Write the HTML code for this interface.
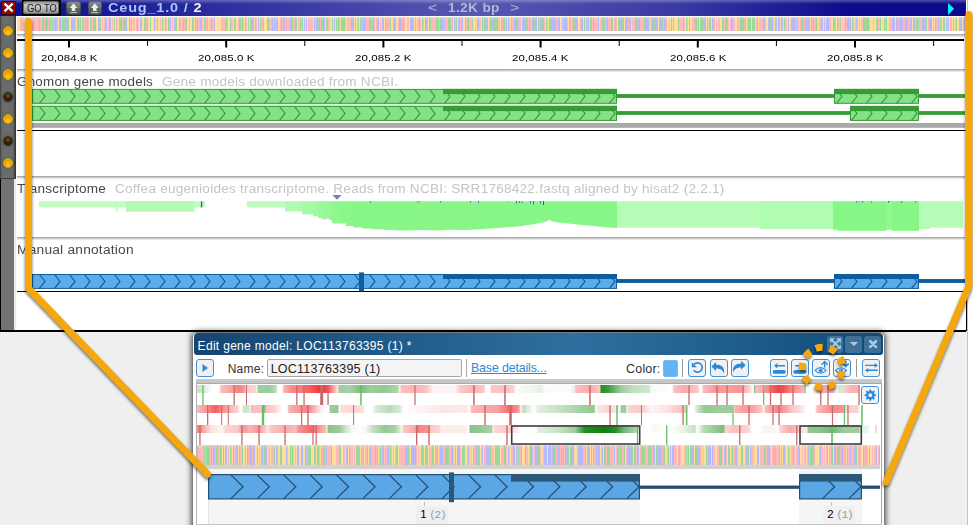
<!DOCTYPE html>
<html><head><meta charset="utf-8"><title>Genome browser</title>
<style>
html,body{margin:0;padding:0;}
body{width:973px;height:525px;overflow:hidden;position:relative;background:#fff;font-family:"Liberation Sans",sans-serif;}
.a{position:absolute;}
.t{position:absolute;white-space:nowrap;line-height:1;}
svg{position:absolute;left:0;top:0;overflow:visible;}
.sep{position:absolute;left:17px;width:948px;height:3px;background:linear-gradient(to bottom,#959595,#cfcfcf 50%,#f4f4f4);}
.ball{position:absolute;left:2.7px;width:8.6px;height:8.6px;border-radius:50%;}
.by{background:radial-gradient(circle at 50% 72%,#ffd258 0,#f8ac08 30%,#f0a000 60%,#d88c00 100%);border:1.1px solid #d2c000;box-shadow:0 0 1px 0.4px rgba(60,60,30,0.7);}
.bd{background:radial-gradient(circle at 50% 35%,#7a5228 0,#3c2408 40%,#1c1002 100%);border:1.1px solid #34342e;box-shadow:0 0 1px 0.5px rgba(60,60,60,0.8);}
.tl{color:#3c3c3c;font-size:12.5px;}
.td{color:#c4c4c4;font-size:12.5px;}
.rl{color:#000;font-size:10px;}
.btn{position:absolute;width:16px;height:16px;border:1px solid #3f93dc;border-radius:3px;background:#f1f1f1;top:359px;}
</style></head><body>
<div class="a" style="left:0;top:331px;width:967px;height:194px;background:#efefef;"></div><div class="a" style="left:967px;top:0;width:1px;height:525px;background:#c4c4c4;"></div><div class="a" style="left:0;top:0;width:966px;height:16px;background:linear-gradient(to right,#0c0c8e 0%,#1c1c96 12%,#5858b2 49%,#3a3aa2 70%,#0c0c8c 88%,#0a0a8a 100%);"></div><div class="a" style="left:0;top:0;width:966px;height:4px;background:linear-gradient(to bottom,rgba(255,255,255,0.28),rgba(255,255,255,0));"></div><div class="a" style="left:1.4px;top:0.6px;width:12.6px;height:12.2px;border:1px solid #2a0006;border-radius:1.5px;background:linear-gradient(to bottom,#a01010,#8a0000 50%,#980404);"></div><svg width="973" height="20"><path d="M4.5 3.7 L12.6 11.3 M12.6 3.7 L4.5 11.3" stroke="#fff" stroke-width="2.3" stroke-linecap="butt"/></svg><div class="a" style="left:22px;top:0;width:39px;height:16px;background:#08080c;"></div><div class="a" style="left:23px;top:1px;width:36px;height:13px;border-radius:3px;background:linear-gradient(to bottom,#8c8c8c 0,#c8c8c8 35%,#b4b4b4 60%,#8a8a8a 100%);box-shadow:inset 0 0 0 1px #6a6a6a;"></div><div class="t" id="goto" style="left:26.6px;top:2.5px;font-size:11px;color:#1c1c1c;transform-origin:0 0;transform:scaleX(0.85);">GO TO</div><div class="a" style="left:66.2px;top:0.5px;width:14.5px;height:14px;border-radius:3.5px;background:linear-gradient(to bottom,#858d84 0,#6c746c 48%,#5c665a 52%,#48524a 100%);box-shadow:inset 0 0 0 0.8px rgba(40,48,40,0.55);"></div><svg width="973" height="20"><path d="M73.5 3.2 L77.3 8 L75.3 8 L75.3 11 L71.7 11 L71.7 8 L69.7 8 Z" fill="#ececec"/><rect x="69.9" y="12.1" width="7.2" height="1" fill="#c4c4c4"/></svg><div class="a" style="left:87.5px;top:0.5px;width:14.5px;height:14px;border-radius:3.5px;background:linear-gradient(to bottom,#868e90 0,#6c746c 48%,#5c6668 52%,#4a5456 100%);box-shadow:inset 0 0 0 0.8px rgba(40,48,40,0.55);"></div><svg width="973" height="20"><path d="M94.8 3.2 L98.6 8 L96.6 8 L96.6 11 L93.0 11 L93.0 8 L91.0 8 Z" fill="#ececec"/><rect x="91.2" y="12.1" width="7.2" height="1" fill="#c4c4c4"/></svg><div class="t" id="ttl" style="left:108px;top:2px;font-size:12.5px;font-weight:bold;color:#a6c8ff;letter-spacing:0.7px;transform-origin:0 0;transform:scaleX(1.16);">Ceug_1.0 / <span style="color:#f4f4ff">2</span></div><div class="t " id="bp0" style="left:427.7px;top:2px;font-size:12.5px;letter-spacing:0px;color:#b6b6d6;transform-origin:0 0;transform:scaleX(1.2718);">&lt;</div><div class="t " id="bp" style="left:447.8px;top:2px;font-size:12.5px;letter-spacing:0.3px;color:#b6b6d6;transform-origin:0 0;transform:scaleX(1.0969);font-weight:bold;">1.2K bp</div><div class="t " id="bp1" style="left:510px;top:2px;font-size:12.5px;letter-spacing:0px;color:#b6b6d6;transform-origin:0 0;transform:scaleX(1.2718);">&gt;</div><svg width="973" height="20"><path d="M948 3 L954.2 8.8 L948 15 Z" fill="#00f0ff"/></svg><div class="a" style="left:0;top:16px;width:16px;height:163px;background:linear-gradient(to right,#3a3a3a 0,#646464 1.5px,#6c6c6c 4px,#6a6a6a 13px,#4a4a4a 14.5px,#333 15.6px,#777 16px);border-bottom:1.5px solid #3c3c3c;box-sizing:border-box;"></div><div class="a" style="left:0;top:179px;width:17px;height:152px;background:linear-gradient(to right,#000 0,#000 1px,#737373 1px,#737373 13.7px,#e6e6e6 13.9px,#ececec 15.5px,#fff 16.8px);"></div><div class="ball by" style="top:25.5px;"></div><div class="ball by" style="top:47.6px;"></div><div class="ball by" style="top:69.39999999999999px;"></div><div class="ball bd" style="top:91.6px;"></div><div class="ball by" style="top:113.6px;"></div><div class="ball bd" style="top:135.6px;"></div><div class="ball by" style="top:157.6px;"></div><div class="sep" style="top:34px;"></div><div class="sep" style="top:69px;"></div><div class="sep" style="top:176px;"></div><div class="sep" style="top:237px;"></div><div class="a" style="left:17px;top:130px;width:949px;height:1px;background:#000;"></div><div class="a" style="left:17px;top:291px;width:949px;height:1px;background:#000;"></div><div class="a" style="left:0px;top:330.4px;width:966px;height:1.2px;background:#000;"></div><div class="a" style="left:965.5px;top:291px;width:1px;height:40px;background:#000;"></div><svg width="973" height="525" shape-rendering="crispEdges"><rect x="17.00" y="17" width="3.20" height="14" fill="#ffde9c"/><rect x="20.15" y="17" width="0.84" height="14" fill="#ffb8b8"/><rect x="20.93" y="17" width="0.84" height="14" fill="#b8b8fc"/><rect x="21.72" y="17" width="0.84" height="14" fill="#ffb8b8"/><rect x="22.51" y="17" width="0.84" height="14" fill="#9ad89a"/><rect x="23.30" y="17" width="0.84" height="14" fill="#ffb8b8"/><rect x="24.08" y="17" width="0.84" height="14" fill="#ffde9c"/><rect x="24.87" y="17" width="1.62" height="14" fill="#9ad89a"/><rect x="26.44" y="17" width="2.41" height="14" fill="#b8b8fc"/><rect x="28.80" y="17" width="2.41" height="14" fill="#ffde9c"/><rect x="31.17" y="17" width="1.62" height="14" fill="#ffb8b8"/><rect x="32.74" y="17" width="1.62" height="14" fill="#b8b8fc"/><rect x="34.31" y="17" width="2.41" height="14" fill="#ffb8b8"/><rect x="36.67" y="17" width="0.84" height="14" fill="#9ad89a"/><rect x="37.46" y="17" width="1.62" height="14" fill="#ffb8b8"/><rect x="39.04" y="17" width="0.84" height="14" fill="#9ad89a"/><rect x="39.82" y="17" width="0.84" height="14" fill="#ffb8b8"/><rect x="40.61" y="17" width="0.84" height="14" fill="#9ad89a"/><rect x="41.40" y="17" width="0.84" height="14" fill="#ffb8b8"/><rect x="42.18" y="17" width="1.62" height="14" fill="#9ad89a"/><rect x="43.76" y="17" width="0.84" height="14" fill="#ffb8b8"/><rect x="44.54" y="17" width="0.84" height="14" fill="#ffde9c"/><rect x="45.33" y="17" width="3.20" height="14" fill="#9ad89a"/><rect x="48.48" y="17" width="0.84" height="14" fill="#ffb8b8"/><rect x="49.27" y="17" width="0.84" height="14" fill="#b8b8fc"/><rect x="50.05" y="17" width="0.84" height="14" fill="#9ad89a"/><rect x="50.84" y="17" width="0.84" height="14" fill="#ffb8b8"/><rect x="51.63" y="17" width="1.62" height="14" fill="#9ad89a"/><rect x="53.20" y="17" width="0.84" height="14" fill="#ffb8b8"/><rect x="53.99" y="17" width="0.84" height="14" fill="#b8b8fc"/><rect x="54.78" y="17" width="0.84" height="14" fill="#9ad89a"/><rect x="55.56" y="17" width="1.62" height="14" fill="#b8b8fc"/><rect x="57.14" y="17" width="0.84" height="14" fill="#ffb8b8"/><rect x="57.92" y="17" width="0.84" height="14" fill="#ffde9c"/><rect x="58.71" y="17" width="0.84" height="14" fill="#9ad89a"/><rect x="59.50" y="17" width="0.84" height="14" fill="#ffb8b8"/><rect x="60.28" y="17" width="0.84" height="14" fill="#b8b8fc"/><rect x="61.07" y="17" width="0.84" height="14" fill="#ffb8b8"/><rect x="61.86" y="17" width="0.84" height="14" fill="#9ad89a"/><rect x="62.65" y="17" width="0.84" height="14" fill="#ffb8b8"/><rect x="63.43" y="17" width="0.84" height="14" fill="#b8b8fc"/><rect x="64.22" y="17" width="0.84" height="14" fill="#9ad89a"/><rect x="65.01" y="17" width="1.62" height="14" fill="#b8b8fc"/><rect x="66.58" y="17" width="0.84" height="14" fill="#ffde9c"/><rect x="67.37" y="17" width="1.62" height="14" fill="#9ad89a"/><rect x="68.94" y="17" width="1.62" height="14" fill="#ffde9c"/><rect x="70.52" y="17" width="0.84" height="14" fill="#ffb8b8"/><rect x="71.30" y="17" width="0.84" height="14" fill="#9ad89a"/><rect x="72.09" y="17" width="0.84" height="14" fill="#b8b8fc"/><rect x="72.88" y="17" width="0.84" height="14" fill="#9ad89a"/><rect x="73.66" y="17" width="0.84" height="14" fill="#ffde9c"/><rect x="74.45" y="17" width="0.84" height="14" fill="#b8b8fc"/><rect x="75.24" y="17" width="0.84" height="14" fill="#ffb8b8"/><rect x="76.03" y="17" width="0.84" height="14" fill="#ffde9c"/><rect x="76.81" y="17" width="2.41" height="14" fill="#9ad89a"/><rect x="79.17" y="17" width="0.84" height="14" fill="#ffb8b8"/><rect x="79.96" y="17" width="0.84" height="14" fill="#9ad89a"/><rect x="80.75" y="17" width="0.84" height="14" fill="#ffde9c"/><rect x="81.53" y="17" width="0.84" height="14" fill="#b8b8fc"/><rect x="82.32" y="17" width="0.84" height="14" fill="#9ad89a"/><rect x="83.11" y="17" width="2.41" height="14" fill="#ffb8b8"/><rect x="85.47" y="17" width="0.84" height="14" fill="#b8b8fc"/><rect x="86.26" y="17" width="0.84" height="14" fill="#ffb8b8"/><rect x="87.04" y="17" width="0.84" height="14" fill="#b8b8fc"/><rect x="87.83" y="17" width="0.84" height="14" fill="#ffb8b8"/><rect x="88.62" y="17" width="1.62" height="14" fill="#ffde9c"/><rect x="90.19" y="17" width="0.84" height="14" fill="#9ad89a"/><rect x="90.98" y="17" width="2.41" height="14" fill="#ffb8b8"/><rect x="93.34" y="17" width="0.84" height="14" fill="#b8b8fc"/><rect x="94.13" y="17" width="1.62" height="14" fill="#9ad89a"/><rect x="95.70" y="17" width="2.41" height="14" fill="#ffde9c"/><rect x="98.06" y="17" width="1.62" height="14" fill="#b8b8fc"/><rect x="99.64" y="17" width="0.84" height="14" fill="#ffde9c"/><rect x="100.42" y="17" width="0.84" height="14" fill="#9ad89a"/><rect x="101.21" y="17" width="0.84" height="14" fill="#ffde9c"/><rect x="102.00" y="17" width="0.84" height="14" fill="#ffb8b8"/><rect x="102.78" y="17" width="0.84" height="14" fill="#ffde9c"/><rect x="103.57" y="17" width="0.84" height="14" fill="#b8b8fc"/><rect x="104.36" y="17" width="0.84" height="14" fill="#ffb8b8"/><rect x="105.14" y="17" width="1.62" height="14" fill="#b8b8fc"/><rect x="106.72" y="17" width="0.84" height="14" fill="#ffde9c"/><rect x="107.51" y="17" width="1.62" height="14" fill="#ffb8b8"/><rect x="109.08" y="17" width="0.84" height="14" fill="#9ad89a"/><rect x="109.87" y="17" width="1.62" height="14" fill="#b8b8fc"/><rect x="111.44" y="17" width="0.84" height="14" fill="#ffde9c"/><rect x="112.23" y="17" width="0.84" height="14" fill="#ffb8b8"/><rect x="113.01" y="17" width="0.84" height="14" fill="#ffde9c"/><rect x="113.80" y="17" width="1.62" height="14" fill="#9ad89a"/><rect x="115.38" y="17" width="0.84" height="14" fill="#ffde9c"/><rect x="116.16" y="17" width="1.62" height="14" fill="#ffb8b8"/><rect x="117.74" y="17" width="1.62" height="14" fill="#ffde9c"/><rect x="119.31" y="17" width="0.84" height="14" fill="#b8b8fc"/><rect x="120.10" y="17" width="0.84" height="14" fill="#9ad89a"/><rect x="120.88" y="17" width="0.84" height="14" fill="#b8b8fc"/><rect x="121.67" y="17" width="0.84" height="14" fill="#ffde9c"/><rect x="122.46" y="17" width="0.84" height="14" fill="#ffb8b8"/><rect x="123.25" y="17" width="2.41" height="14" fill="#9ad89a"/><rect x="125.61" y="17" width="0.84" height="14" fill="#ffb8b8"/><rect x="126.39" y="17" width="0.84" height="14" fill="#b8b8fc"/><rect x="127.18" y="17" width="1.62" height="14" fill="#ffde9c"/><rect x="128.75" y="17" width="0.84" height="14" fill="#b8b8fc"/><rect x="129.54" y="17" width="1.62" height="14" fill="#ffb8b8"/><rect x="131.12" y="17" width="0.84" height="14" fill="#9ad89a"/><rect x="131.90" y="17" width="0.84" height="14" fill="#ffde9c"/><rect x="132.69" y="17" width="0.84" height="14" fill="#b8b8fc"/><rect x="133.48" y="17" width="1.62" height="14" fill="#ffb8b8"/><rect x="135.05" y="17" width="0.84" height="14" fill="#ffde9c"/><rect x="135.84" y="17" width="0.84" height="14" fill="#ffb8b8"/><rect x="136.62" y="17" width="0.84" height="14" fill="#ffde9c"/><rect x="137.41" y="17" width="0.84" height="14" fill="#9ad89a"/><rect x="138.20" y="17" width="0.84" height="14" fill="#ffb8b8"/><rect x="138.99" y="17" width="0.84" height="14" fill="#ffde9c"/><rect x="139.77" y="17" width="0.84" height="14" fill="#b8b8fc"/><rect x="140.56" y="17" width="0.84" height="14" fill="#ffb8b8"/><rect x="141.35" y="17" width="0.84" height="14" fill="#9ad89a"/><rect x="142.13" y="17" width="2.41" height="14" fill="#ffde9c"/><rect x="144.49" y="17" width="1.62" height="14" fill="#9ad89a"/><rect x="146.07" y="17" width="0.84" height="14" fill="#ffb8b8"/><rect x="146.86" y="17" width="0.84" height="14" fill="#9ad89a"/><rect x="147.64" y="17" width="0.84" height="14" fill="#ffb8b8"/><rect x="148.43" y="17" width="1.62" height="14" fill="#ffde9c"/><rect x="150.00" y="17" width="0.84" height="14" fill="#9ad89a"/><rect x="150.79" y="17" width="0.84" height="14" fill="#ffde9c"/><rect x="151.58" y="17" width="0.84" height="14" fill="#ffb8b8"/><rect x="152.36" y="17" width="1.62" height="14" fill="#ffde9c"/><rect x="153.94" y="17" width="0.84" height="14" fill="#b8b8fc"/><rect x="154.73" y="17" width="1.62" height="14" fill="#ffb8b8"/><rect x="156.30" y="17" width="0.84" height="14" fill="#ffde9c"/><rect x="157.09" y="17" width="0.84" height="14" fill="#9ad89a"/><rect x="157.87" y="17" width="0.84" height="14" fill="#ffde9c"/><rect x="158.66" y="17" width="0.84" height="14" fill="#9ad89a"/><rect x="159.45" y="17" width="0.84" height="14" fill="#ffde9c"/><rect x="160.23" y="17" width="0.84" height="14" fill="#ffb8b8"/><rect x="161.02" y="17" width="0.84" height="14" fill="#ffde9c"/><rect x="161.81" y="17" width="0.84" height="14" fill="#9ad89a"/><rect x="162.60" y="17" width="0.84" height="14" fill="#b8b8fc"/><rect x="163.38" y="17" width="0.84" height="14" fill="#ffb8b8"/><rect x="164.17" y="17" width="0.84" height="14" fill="#ffde9c"/><rect x="164.96" y="17" width="0.84" height="14" fill="#b8b8fc"/><rect x="165.74" y="17" width="0.84" height="14" fill="#ffb8b8"/><rect x="166.53" y="17" width="0.84" height="14" fill="#b8b8fc"/><rect x="167.32" y="17" width="0.84" height="14" fill="#ffde9c"/><rect x="168.10" y="17" width="1.62" height="14" fill="#9ad89a"/><rect x="169.68" y="17" width="1.62" height="14" fill="#b8b8fc"/><rect x="171.25" y="17" width="0.84" height="14" fill="#ffde9c"/><rect x="172.04" y="17" width="0.84" height="14" fill="#ffb8b8"/><rect x="172.83" y="17" width="0.84" height="14" fill="#ffde9c"/><rect x="173.61" y="17" width="0.84" height="14" fill="#9ad89a"/><rect x="174.40" y="17" width="1.62" height="14" fill="#b8b8fc"/><rect x="175.97" y="17" width="0.84" height="14" fill="#9ad89a"/><rect x="176.76" y="17" width="2.41" height="14" fill="#ffde9c"/><rect x="179.12" y="17" width="0.84" height="14" fill="#b8b8fc"/><rect x="179.91" y="17" width="0.84" height="14" fill="#ffb8b8"/><rect x="180.70" y="17" width="0.84" height="14" fill="#b8b8fc"/><rect x="181.48" y="17" width="1.62" height="14" fill="#ffb8b8"/><rect x="183.06" y="17" width="0.84" height="14" fill="#9ad89a"/><rect x="183.84" y="17" width="0.84" height="14" fill="#ffb8b8"/><rect x="184.63" y="17" width="0.84" height="14" fill="#9ad89a"/><rect x="185.42" y="17" width="0.84" height="14" fill="#b8b8fc"/><rect x="186.21" y="17" width="0.84" height="14" fill="#9ad89a"/><rect x="186.99" y="17" width="2.41" height="14" fill="#ffde9c"/><rect x="189.35" y="17" width="0.84" height="14" fill="#ffb8b8"/><rect x="190.14" y="17" width="1.62" height="14" fill="#ffde9c"/><rect x="191.71" y="17" width="2.41" height="14" fill="#9ad89a"/><rect x="194.08" y="17" width="0.84" height="14" fill="#ffde9c"/><rect x="194.86" y="17" width="1.62" height="14" fill="#9ad89a"/><rect x="196.44" y="17" width="0.84" height="14" fill="#ffb8b8"/><rect x="197.22" y="17" width="0.84" height="14" fill="#9ad89a"/><rect x="198.01" y="17" width="1.62" height="14" fill="#ffb8b8"/><rect x="199.58" y="17" width="0.84" height="14" fill="#ffde9c"/><rect x="200.37" y="17" width="0.84" height="14" fill="#b8b8fc"/><rect x="201.16" y="17" width="0.84" height="14" fill="#9ad89a"/><rect x="201.95" y="17" width="0.84" height="14" fill="#ffb8b8"/><rect x="202.73" y="17" width="0.84" height="14" fill="#ffde9c"/><rect x="203.52" y="17" width="0.84" height="14" fill="#b8b8fc"/><rect x="204.31" y="17" width="1.62" height="14" fill="#9ad89a"/><rect x="205.88" y="17" width="1.62" height="14" fill="#ffb8b8"/><rect x="207.45" y="17" width="0.84" height="14" fill="#b8b8fc"/><rect x="208.24" y="17" width="0.84" height="14" fill="#ffde9c"/><rect x="209.03" y="17" width="2.41" height="14" fill="#ffb8b8"/><rect x="211.39" y="17" width="0.84" height="14" fill="#b8b8fc"/><rect x="212.18" y="17" width="1.62" height="14" fill="#ffb8b8"/><rect x="213.75" y="17" width="0.84" height="14" fill="#b8b8fc"/><rect x="214.54" y="17" width="0.84" height="14" fill="#9ad89a"/><rect x="215.32" y="17" width="2.41" height="14" fill="#ffde9c"/><rect x="217.69" y="17" width="0.84" height="14" fill="#b8b8fc"/><rect x="218.47" y="17" width="2.41" height="14" fill="#ffde9c"/><rect x="220.83" y="17" width="3.98" height="14" fill="#ffb8b8"/><rect x="224.77" y="17" width="0.84" height="14" fill="#b8b8fc"/><rect x="225.56" y="17" width="1.62" height="14" fill="#9ad89a"/><rect x="227.13" y="17" width="0.84" height="14" fill="#ffb8b8"/><rect x="227.92" y="17" width="2.41" height="14" fill="#ffde9c"/><rect x="230.28" y="17" width="0.84" height="14" fill="#9ad89a"/><rect x="231.06" y="17" width="1.62" height="14" fill="#ffb8b8"/><rect x="232.64" y="17" width="1.62" height="14" fill="#ffde9c"/><rect x="234.21" y="17" width="0.84" height="14" fill="#9ad89a"/><rect x="235.00" y="17" width="0.84" height="14" fill="#b8b8fc"/><rect x="235.79" y="17" width="0.84" height="14" fill="#ffde9c"/><rect x="236.57" y="17" width="0.84" height="14" fill="#b8b8fc"/><rect x="237.36" y="17" width="0.84" height="14" fill="#ffde9c"/><rect x="238.15" y="17" width="0.84" height="14" fill="#ffb8b8"/><rect x="238.93" y="17" width="1.62" height="14" fill="#9ad89a"/><rect x="240.51" y="17" width="1.62" height="14" fill="#ffb8b8"/><rect x="242.08" y="17" width="0.84" height="14" fill="#9ad89a"/><rect x="242.87" y="17" width="1.62" height="14" fill="#ffb8b8"/><rect x="244.44" y="17" width="0.84" height="14" fill="#ffde9c"/><rect x="245.23" y="17" width="0.84" height="14" fill="#b8b8fc"/><rect x="246.02" y="17" width="0.84" height="14" fill="#ffb8b8"/><rect x="246.80" y="17" width="0.84" height="14" fill="#ffde9c"/><rect x="247.59" y="17" width="0.84" height="14" fill="#ffb8b8"/><rect x="248.38" y="17" width="0.84" height="14" fill="#9ad89a"/><rect x="249.17" y="17" width="0.84" height="14" fill="#ffde9c"/><rect x="249.95" y="17" width="1.62" height="14" fill="#9ad89a"/><rect x="251.53" y="17" width="0.84" height="14" fill="#ffde9c"/><rect x="252.31" y="17" width="1.62" height="14" fill="#b8b8fc"/><rect x="253.89" y="17" width="0.84" height="14" fill="#ffde9c"/><rect x="254.67" y="17" width="0.84" height="14" fill="#ffb8b8"/><rect x="255.46" y="17" width="0.84" height="14" fill="#b8b8fc"/><rect x="256.25" y="17" width="0.84" height="14" fill="#ffb8b8"/><rect x="257.04" y="17" width="0.84" height="14" fill="#ffde9c"/><rect x="257.82" y="17" width="0.84" height="14" fill="#b8b8fc"/><rect x="258.61" y="17" width="1.62" height="14" fill="#ffde9c"/><rect x="260.18" y="17" width="0.84" height="14" fill="#9ad89a"/><rect x="260.97" y="17" width="2.41" height="14" fill="#ffb8b8"/><rect x="263.33" y="17" width="0.84" height="14" fill="#b8b8fc"/><rect x="264.12" y="17" width="1.62" height="14" fill="#ffde9c"/><rect x="265.69" y="17" width="0.84" height="14" fill="#9ad89a"/><rect x="266.48" y="17" width="0.84" height="14" fill="#ffde9c"/><rect x="267.27" y="17" width="0.84" height="14" fill="#b8b8fc"/><rect x="268.05" y="17" width="0.84" height="14" fill="#9ad89a"/><rect x="268.84" y="17" width="0.84" height="14" fill="#ffb8b8"/><rect x="269.63" y="17" width="0.84" height="14" fill="#9ad89a"/><rect x="270.41" y="17" width="1.62" height="14" fill="#ffb8b8"/><rect x="271.99" y="17" width="0.84" height="14" fill="#b8b8fc"/><rect x="272.78" y="17" width="0.84" height="14" fill="#ffb8b8"/><rect x="273.56" y="17" width="0.84" height="14" fill="#ffde9c"/><rect x="274.35" y="17" width="0.84" height="14" fill="#b8b8fc"/><rect x="275.14" y="17" width="0.84" height="14" fill="#ffb8b8"/><rect x="275.92" y="17" width="0.84" height="14" fill="#b8b8fc"/><rect x="276.71" y="17" width="1.62" height="14" fill="#9ad89a"/><rect x="278.28" y="17" width="1.62" height="14" fill="#ffde9c"/><rect x="279.86" y="17" width="0.84" height="14" fill="#ffb8b8"/><rect x="280.65" y="17" width="1.62" height="14" fill="#9ad89a"/><rect x="282.22" y="17" width="0.84" height="14" fill="#ffb8b8"/><rect x="283.01" y="17" width="2.41" height="14" fill="#b8b8fc"/><rect x="285.37" y="17" width="3.20" height="14" fill="#ffb8b8"/><rect x="288.52" y="17" width="0.84" height="14" fill="#b8b8fc"/><rect x="289.30" y="17" width="0.84" height="14" fill="#ffb8b8"/><rect x="290.09" y="17" width="2.41" height="14" fill="#b8b8fc"/><rect x="292.45" y="17" width="0.84" height="14" fill="#9ad89a"/><rect x="293.24" y="17" width="1.62" height="14" fill="#ffb8b8"/><rect x="294.81" y="17" width="0.84" height="14" fill="#9ad89a"/><rect x="295.60" y="17" width="0.84" height="14" fill="#ffb8b8"/><rect x="296.39" y="17" width="0.84" height="14" fill="#9ad89a"/><rect x="297.17" y="17" width="0.84" height="14" fill="#ffde9c"/><rect x="297.96" y="17" width="1.62" height="14" fill="#ffb8b8"/><rect x="299.53" y="17" width="0.84" height="14" fill="#ffde9c"/><rect x="300.32" y="17" width="0.84" height="14" fill="#9ad89a"/><rect x="301.11" y="17" width="0.84" height="14" fill="#ffb8b8"/><rect x="301.89" y="17" width="1.62" height="14" fill="#9ad89a"/><rect x="303.47" y="17" width="0.84" height="14" fill="#ffde9c"/><rect x="304.26" y="17" width="0.84" height="14" fill="#b8b8fc"/><rect x="305.04" y="17" width="0.84" height="14" fill="#ffde9c"/><rect x="305.83" y="17" width="0.84" height="14" fill="#b8b8fc"/><rect x="306.62" y="17" width="0.84" height="14" fill="#ffb8b8"/><rect x="307.40" y="17" width="0.84" height="14" fill="#ffde9c"/><rect x="308.19" y="17" width="4.77" height="14" fill="#ffb8b8"/><rect x="312.91" y="17" width="0.84" height="14" fill="#ffde9c"/><rect x="313.70" y="17" width="0.84" height="14" fill="#ffb8b8"/><rect x="314.49" y="17" width="0.84" height="14" fill="#b8b8fc"/><rect x="315.27" y="17" width="0.84" height="14" fill="#ffb8b8"/><rect x="316.06" y="17" width="0.84" height="14" fill="#b8b8fc"/><rect x="316.85" y="17" width="0.84" height="14" fill="#9ad89a"/><rect x="317.63" y="17" width="0.84" height="14" fill="#b8b8fc"/><rect x="318.42" y="17" width="1.62" height="14" fill="#9ad89a"/><rect x="320.00" y="17" width="0.84" height="14" fill="#ffb8b8"/><rect x="320.78" y="17" width="0.84" height="14" fill="#9ad89a"/><rect x="321.57" y="17" width="0.84" height="14" fill="#ffde9c"/><rect x="322.36" y="17" width="1.62" height="14" fill="#9ad89a"/><rect x="323.93" y="17" width="0.84" height="14" fill="#b8b8fc"/><rect x="324.72" y="17" width="0.84" height="14" fill="#ffde9c"/><rect x="325.50" y="17" width="1.62" height="14" fill="#9ad89a"/><rect x="327.08" y="17" width="0.84" height="14" fill="#b8b8fc"/><rect x="327.87" y="17" width="0.84" height="14" fill="#ffb8b8"/><rect x="328.65" y="17" width="0.84" height="14" fill="#b8b8fc"/><rect x="329.44" y="17" width="0.84" height="14" fill="#ffb8b8"/><rect x="330.23" y="17" width="1.62" height="14" fill="#ffde9c"/><rect x="331.80" y="17" width="0.84" height="14" fill="#9ad89a"/><rect x="332.59" y="17" width="0.84" height="14" fill="#ffb8b8"/><rect x="333.37" y="17" width="0.84" height="14" fill="#ffde9c"/><rect x="334.16" y="17" width="0.84" height="14" fill="#b8b8fc"/><rect x="334.95" y="17" width="0.84" height="14" fill="#ffde9c"/><rect x="335.73" y="17" width="0.84" height="14" fill="#9ad89a"/><rect x="336.52" y="17" width="0.84" height="14" fill="#b8b8fc"/><rect x="337.31" y="17" width="0.84" height="14" fill="#ffb8b8"/><rect x="338.10" y="17" width="0.84" height="14" fill="#9ad89a"/><rect x="338.88" y="17" width="0.84" height="14" fill="#b8b8fc"/><rect x="339.67" y="17" width="0.84" height="14" fill="#ffb8b8"/><rect x="340.46" y="17" width="0.84" height="14" fill="#ffde9c"/><rect x="341.24" y="17" width="0.84" height="14" fill="#b8b8fc"/><rect x="342.03" y="17" width="1.62" height="14" fill="#9ad89a"/><rect x="343.60" y="17" width="0.84" height="14" fill="#ffb8b8"/><rect x="344.39" y="17" width="0.84" height="14" fill="#9ad89a"/><rect x="345.18" y="17" width="0.84" height="14" fill="#ffb8b8"/><rect x="345.97" y="17" width="0.84" height="14" fill="#ffde9c"/><rect x="346.75" y="17" width="3.98" height="14" fill="#ffb8b8"/><rect x="350.69" y="17" width="0.84" height="14" fill="#ffde9c"/><rect x="351.47" y="17" width="0.84" height="14" fill="#9ad89a"/><rect x="352.26" y="17" width="0.84" height="14" fill="#b8b8fc"/><rect x="353.05" y="17" width="0.84" height="14" fill="#9ad89a"/><rect x="353.84" y="17" width="0.84" height="14" fill="#ffde9c"/><rect x="354.62" y="17" width="0.84" height="14" fill="#b8b8fc"/><rect x="355.41" y="17" width="0.84" height="14" fill="#9ad89a"/><rect x="356.20" y="17" width="0.84" height="14" fill="#ffde9c"/><rect x="356.98" y="17" width="0.84" height="14" fill="#ffb8b8"/><rect x="357.77" y="17" width="0.84" height="14" fill="#9ad89a"/><rect x="358.56" y="17" width="0.84" height="14" fill="#ffb8b8"/><rect x="359.34" y="17" width="0.84" height="14" fill="#ffde9c"/><rect x="360.13" y="17" width="0.84" height="14" fill="#9ad89a"/><rect x="360.92" y="17" width="0.84" height="14" fill="#ffb8b8"/><rect x="361.71" y="17" width="0.84" height="14" fill="#ffde9c"/><rect x="362.49" y="17" width="3.20" height="14" fill="#b8b8fc"/><rect x="365.64" y="17" width="3.20" height="14" fill="#ffb8b8"/><rect x="368.79" y="17" width="0.84" height="14" fill="#9ad89a"/><rect x="369.58" y="17" width="0.84" height="14" fill="#ffde9c"/><rect x="370.36" y="17" width="0.84" height="14" fill="#9ad89a"/><rect x="371.15" y="17" width="0.84" height="14" fill="#ffb8b8"/><rect x="371.94" y="17" width="1.62" height="14" fill="#9ad89a"/><rect x="373.51" y="17" width="0.84" height="14" fill="#b8b8fc"/><rect x="374.30" y="17" width="0.84" height="14" fill="#ffb8b8"/><rect x="375.08" y="17" width="0.84" height="14" fill="#ffde9c"/><rect x="375.87" y="17" width="0.84" height="14" fill="#ffb8b8"/><rect x="376.66" y="17" width="2.41" height="14" fill="#b8b8fc"/><rect x="379.02" y="17" width="0.84" height="14" fill="#ffde9c"/><rect x="379.81" y="17" width="0.84" height="14" fill="#ffb8b8"/><rect x="380.59" y="17" width="1.62" height="14" fill="#ffde9c"/><rect x="382.17" y="17" width="0.84" height="14" fill="#b8b8fc"/><rect x="382.95" y="17" width="0.84" height="14" fill="#9ad89a"/><rect x="383.74" y="17" width="0.84" height="14" fill="#ffde9c"/><rect x="384.53" y="17" width="0.84" height="14" fill="#ffb8b8"/><rect x="385.32" y="17" width="0.84" height="14" fill="#9ad89a"/><rect x="386.10" y="17" width="0.84" height="14" fill="#ffb8b8"/><rect x="386.89" y="17" width="0.84" height="14" fill="#b8b8fc"/><rect x="387.68" y="17" width="0.84" height="14" fill="#9ad89a"/><rect x="388.46" y="17" width="1.62" height="14" fill="#ffb8b8"/><rect x="390.04" y="17" width="0.84" height="14" fill="#9ad89a"/><rect x="390.82" y="17" width="0.84" height="14" fill="#ffde9c"/><rect x="391.61" y="17" width="0.84" height="14" fill="#9ad89a"/><rect x="392.40" y="17" width="0.84" height="14" fill="#ffde9c"/><rect x="393.19" y="17" width="1.62" height="14" fill="#b8b8fc"/><rect x="394.76" y="17" width="1.62" height="14" fill="#9ad89a"/><rect x="396.33" y="17" width="1.62" height="14" fill="#ffde9c"/><rect x="397.91" y="17" width="1.62" height="14" fill="#ffb8b8"/><rect x="399.48" y="17" width="0.84" height="14" fill="#9ad89a"/><rect x="400.27" y="17" width="1.62" height="14" fill="#b8b8fc"/><rect x="401.84" y="17" width="0.84" height="14" fill="#ffb8b8"/><rect x="402.63" y="17" width="0.84" height="14" fill="#ffde9c"/><rect x="403.42" y="17" width="0.84" height="14" fill="#9ad89a"/><rect x="404.20" y="17" width="0.84" height="14" fill="#ffb8b8"/><rect x="404.99" y="17" width="1.62" height="14" fill="#ffde9c"/><rect x="406.56" y="17" width="0.84" height="14" fill="#b8b8fc"/><rect x="407.35" y="17" width="1.62" height="14" fill="#ffb8b8"/><rect x="408.93" y="17" width="0.84" height="14" fill="#ffde9c"/><rect x="409.71" y="17" width="0.84" height="14" fill="#b8b8fc"/><rect x="410.50" y="17" width="0.84" height="14" fill="#9ad89a"/><rect x="411.29" y="17" width="1.62" height="14" fill="#b8b8fc"/><rect x="412.86" y="17" width="1.62" height="14" fill="#9ad89a"/><rect x="414.43" y="17" width="0.84" height="14" fill="#ffde9c"/><rect x="415.22" y="17" width="0.84" height="14" fill="#b8b8fc"/><rect x="416.01" y="17" width="0.84" height="14" fill="#ffde9c"/><rect x="416.80" y="17" width="2.41" height="14" fill="#ffb8b8"/><rect x="419.16" y="17" width="0.84" height="14" fill="#b8b8fc"/><rect x="419.94" y="17" width="0.84" height="14" fill="#ffb8b8"/><rect x="420.73" y="17" width="0.84" height="14" fill="#ffde9c"/><rect x="421.52" y="17" width="0.84" height="14" fill="#ffb8b8"/><rect x="422.30" y="17" width="0.84" height="14" fill="#9ad89a"/><rect x="423.09" y="17" width="0.84" height="14" fill="#ffb8b8"/><rect x="423.88" y="17" width="0.84" height="14" fill="#ffde9c"/><rect x="424.67" y="17" width="0.84" height="14" fill="#b8b8fc"/><rect x="425.45" y="17" width="0.84" height="14" fill="#9ad89a"/><rect x="426.24" y="17" width="1.62" height="14" fill="#b8b8fc"/><rect x="427.81" y="17" width="0.84" height="14" fill="#ffde9c"/><rect x="428.60" y="17" width="1.62" height="14" fill="#b8b8fc"/><rect x="430.17" y="17" width="0.84" height="14" fill="#9ad89a"/><rect x="430.96" y="17" width="4.77" height="14" fill="#ffb8b8"/><rect x="435.68" y="17" width="0.84" height="14" fill="#ffde9c"/><rect x="436.47" y="17" width="0.84" height="14" fill="#9ad89a"/><rect x="437.26" y="17" width="0.84" height="14" fill="#b8b8fc"/><rect x="438.04" y="17" width="0.84" height="14" fill="#9ad89a"/><rect x="438.83" y="17" width="0.84" height="14" fill="#ffb8b8"/><rect x="439.62" y="17" width="0.84" height="14" fill="#b8b8fc"/><rect x="440.41" y="17" width="1.62" height="14" fill="#9ad89a"/><rect x="441.98" y="17" width="0.84" height="14" fill="#b8b8fc"/><rect x="442.77" y="17" width="0.84" height="14" fill="#ffb8b8"/><rect x="443.55" y="17" width="0.84" height="14" fill="#ffde9c"/><rect x="444.34" y="17" width="0.84" height="14" fill="#b8b8fc"/><rect x="445.13" y="17" width="1.62" height="14" fill="#ffb8b8"/><rect x="446.70" y="17" width="0.84" height="14" fill="#ffde9c"/><rect x="447.49" y="17" width="0.84" height="14" fill="#ffb8b8"/><rect x="448.28" y="17" width="2.41" height="14" fill="#9ad89a"/><rect x="450.64" y="17" width="2.41" height="14" fill="#ffb8b8"/><rect x="453.00" y="17" width="0.84" height="14" fill="#ffde9c"/><rect x="453.78" y="17" width="1.62" height="14" fill="#b8b8fc"/><rect x="455.36" y="17" width="0.84" height="14" fill="#ffb8b8"/><rect x="456.15" y="17" width="0.84" height="14" fill="#9ad89a"/><rect x="456.93" y="17" width="0.84" height="14" fill="#ffde9c"/><rect x="457.72" y="17" width="0.84" height="14" fill="#b8b8fc"/><rect x="458.51" y="17" width="0.84" height="14" fill="#ffb8b8"/><rect x="459.29" y="17" width="0.84" height="14" fill="#b8b8fc"/><rect x="460.08" y="17" width="0.84" height="14" fill="#ffb8b8"/><rect x="460.87" y="17" width="0.84" height="14" fill="#b8b8fc"/><rect x="461.65" y="17" width="0.84" height="14" fill="#9ad89a"/><rect x="462.44" y="17" width="0.84" height="14" fill="#b8b8fc"/><rect x="463.23" y="17" width="1.62" height="14" fill="#ffde9c"/><rect x="464.80" y="17" width="0.84" height="14" fill="#b8b8fc"/><rect x="465.59" y="17" width="0.84" height="14" fill="#9ad89a"/><rect x="466.38" y="17" width="0.84" height="14" fill="#ffb8b8"/><rect x="467.16" y="17" width="0.84" height="14" fill="#b8b8fc"/><rect x="467.95" y="17" width="0.84" height="14" fill="#9ad89a"/><rect x="468.74" y="17" width="3.20" height="14" fill="#ffb8b8"/><rect x="471.89" y="17" width="0.84" height="14" fill="#9ad89a"/><rect x="472.67" y="17" width="2.41" height="14" fill="#ffde9c"/><rect x="475.03" y="17" width="0.84" height="14" fill="#ffb8b8"/><rect x="475.82" y="17" width="0.84" height="14" fill="#ffde9c"/><rect x="476.61" y="17" width="1.62" height="14" fill="#9ad89a"/><rect x="478.18" y="17" width="0.84" height="14" fill="#b8b8fc"/><rect x="478.97" y="17" width="1.62" height="14" fill="#ffb8b8"/><rect x="480.54" y="17" width="1.62" height="14" fill="#ffde9c"/><rect x="482.12" y="17" width="0.84" height="14" fill="#9ad89a"/><rect x="482.90" y="17" width="1.62" height="14" fill="#ffb8b8"/><rect x="484.48" y="17" width="1.62" height="14" fill="#9ad89a"/><rect x="486.05" y="17" width="1.62" height="14" fill="#b8b8fc"/><rect x="487.63" y="17" width="0.84" height="14" fill="#9ad89a"/><rect x="488.41" y="17" width="0.84" height="14" fill="#ffde9c"/><rect x="489.20" y="17" width="0.84" height="14" fill="#ffb8b8"/><rect x="489.99" y="17" width="1.62" height="14" fill="#9ad89a"/><rect x="491.56" y="17" width="0.84" height="14" fill="#ffde9c"/><rect x="492.35" y="17" width="0.84" height="14" fill="#b8b8fc"/><rect x="493.13" y="17" width="2.41" height="14" fill="#9ad89a"/><rect x="495.50" y="17" width="0.84" height="14" fill="#ffb8b8"/><rect x="496.28" y="17" width="0.84" height="14" fill="#9ad89a"/><rect x="497.07" y="17" width="0.84" height="14" fill="#b8b8fc"/><rect x="497.86" y="17" width="0.84" height="14" fill="#ffb8b8"/><rect x="498.64" y="17" width="0.84" height="14" fill="#ffde9c"/><rect x="499.43" y="17" width="0.84" height="14" fill="#ffb8b8"/><rect x="500.22" y="17" width="0.84" height="14" fill="#ffde9c"/><rect x="501.00" y="17" width="0.84" height="14" fill="#9ad89a"/><rect x="501.79" y="17" width="0.84" height="14" fill="#ffb8b8"/><rect x="502.58" y="17" width="1.62" height="14" fill="#b8b8fc"/><rect x="504.15" y="17" width="0.84" height="14" fill="#9ad89a"/><rect x="504.94" y="17" width="0.84" height="14" fill="#ffb8b8"/><rect x="505.73" y="17" width="0.84" height="14" fill="#b8b8fc"/><rect x="506.51" y="17" width="1.62" height="14" fill="#ffde9c"/><rect x="508.09" y="17" width="0.84" height="14" fill="#b8b8fc"/><rect x="508.87" y="17" width="0.84" height="14" fill="#ffb8b8"/><rect x="509.66" y="17" width="0.84" height="14" fill="#9ad89a"/><rect x="510.45" y="17" width="0.84" height="14" fill="#ffde9c"/><rect x="511.24" y="17" width="0.84" height="14" fill="#b8b8fc"/><rect x="512.02" y="17" width="1.62" height="14" fill="#ffb8b8"/><rect x="513.60" y="17" width="1.62" height="14" fill="#b8b8fc"/><rect x="515.17" y="17" width="3.20" height="14" fill="#9ad89a"/><rect x="518.32" y="17" width="0.84" height="14" fill="#b8b8fc"/><rect x="519.11" y="17" width="1.62" height="14" fill="#ffb8b8"/><rect x="520.68" y="17" width="0.84" height="14" fill="#b8b8fc"/><rect x="521.47" y="17" width="0.84" height="14" fill="#ffde9c"/><rect x="522.25" y="17" width="2.41" height="14" fill="#b8b8fc"/><rect x="524.61" y="17" width="0.84" height="14" fill="#ffb8b8"/><rect x="525.40" y="17" width="0.84" height="14" fill="#b8b8fc"/><rect x="526.19" y="17" width="0.84" height="14" fill="#9ad89a"/><rect x="526.98" y="17" width="0.84" height="14" fill="#b8b8fc"/><rect x="527.76" y="17" width="0.84" height="14" fill="#ffb8b8"/><rect x="528.55" y="17" width="0.84" height="14" fill="#9ad89a"/><rect x="529.34" y="17" width="0.84" height="14" fill="#b8b8fc"/><rect x="530.12" y="17" width="1.62" height="14" fill="#ffb8b8"/><rect x="531.70" y="17" width="0.84" height="14" fill="#9ad89a"/><rect x="532.48" y="17" width="0.84" height="14" fill="#b8b8fc"/><rect x="533.27" y="17" width="1.62" height="14" fill="#9ad89a"/><rect x="534.85" y="17" width="0.84" height="14" fill="#b8b8fc"/><rect x="535.63" y="17" width="0.84" height="14" fill="#9ad89a"/><rect x="536.42" y="17" width="0.84" height="14" fill="#b8b8fc"/><rect x="537.21" y="17" width="0.84" height="14" fill="#ffde9c"/><rect x="537.99" y="17" width="0.84" height="14" fill="#9ad89a"/><rect x="538.78" y="17" width="0.84" height="14" fill="#ffb8b8"/><rect x="539.57" y="17" width="2.41" height="14" fill="#b8b8fc"/><rect x="541.93" y="17" width="1.62" height="14" fill="#9ad89a"/><rect x="543.50" y="17" width="0.84" height="14" fill="#ffde9c"/><rect x="544.29" y="17" width="0.84" height="14" fill="#ffb8b8"/><rect x="545.08" y="17" width="0.84" height="14" fill="#ffde9c"/><rect x="545.86" y="17" width="0.84" height="14" fill="#9ad89a"/><rect x="546.65" y="17" width="0.84" height="14" fill="#ffde9c"/><rect x="547.44" y="17" width="0.84" height="14" fill="#ffb8b8"/><rect x="548.22" y="17" width="0.84" height="14" fill="#ffde9c"/><rect x="549.01" y="17" width="0.84" height="14" fill="#b8b8fc"/><rect x="549.80" y="17" width="0.84" height="14" fill="#9ad89a"/><rect x="550.59" y="17" width="2.41" height="14" fill="#b8b8fc"/><rect x="552.95" y="17" width="0.84" height="14" fill="#9ad89a"/><rect x="553.73" y="17" width="1.62" height="14" fill="#b8b8fc"/><rect x="555.31" y="17" width="0.84" height="14" fill="#9ad89a"/><rect x="556.09" y="17" width="2.41" height="14" fill="#ffb8b8"/><rect x="558.46" y="17" width="1.62" height="14" fill="#b8b8fc"/><rect x="560.03" y="17" width="1.62" height="14" fill="#ffde9c"/><rect x="561.60" y="17" width="1.62" height="14" fill="#b8b8fc"/><rect x="563.18" y="17" width="0.84" height="14" fill="#ffb8b8"/><rect x="563.96" y="17" width="0.84" height="14" fill="#b8b8fc"/><rect x="564.75" y="17" width="0.84" height="14" fill="#9ad89a"/><rect x="565.54" y="17" width="0.84" height="14" fill="#ffde9c"/><rect x="566.33" y="17" width="0.84" height="14" fill="#b8b8fc"/><rect x="567.11" y="17" width="0.84" height="14" fill="#ffb8b8"/><rect x="567.90" y="17" width="0.84" height="14" fill="#ffde9c"/><rect x="568.69" y="17" width="1.62" height="14" fill="#b8b8fc"/><rect x="570.26" y="17" width="2.41" height="14" fill="#ffb8b8"/><rect x="572.62" y="17" width="0.84" height="14" fill="#ffde9c"/><rect x="573.41" y="17" width="0.84" height="14" fill="#b8b8fc"/><rect x="574.20" y="17" width="0.84" height="14" fill="#9ad89a"/><rect x="574.98" y="17" width="3.20" height="14" fill="#b8b8fc"/><rect x="578.13" y="17" width="2.41" height="14" fill="#ffde9c"/><rect x="580.49" y="17" width="0.84" height="14" fill="#ffb8b8"/><rect x="581.28" y="17" width="1.62" height="14" fill="#b8b8fc"/><rect x="582.85" y="17" width="0.84" height="14" fill="#ffde9c"/><rect x="583.64" y="17" width="0.84" height="14" fill="#ffb8b8"/><rect x="584.43" y="17" width="0.84" height="14" fill="#9ad89a"/><rect x="585.21" y="17" width="0.84" height="14" fill="#ffde9c"/><rect x="586.00" y="17" width="0.84" height="14" fill="#b8b8fc"/><rect x="586.79" y="17" width="0.84" height="14" fill="#ffb8b8"/><rect x="587.57" y="17" width="1.62" height="14" fill="#b8b8fc"/><rect x="589.15" y="17" width="0.84" height="14" fill="#ffde9c"/><rect x="589.94" y="17" width="2.41" height="14" fill="#9ad89a"/><rect x="592.30" y="17" width="0.84" height="14" fill="#ffb8b8"/><rect x="593.08" y="17" width="0.84" height="14" fill="#9ad89a"/><rect x="593.87" y="17" width="0.84" height="14" fill="#ffb8b8"/><rect x="594.66" y="17" width="0.84" height="14" fill="#b8b8fc"/><rect x="595.44" y="17" width="2.41" height="14" fill="#ffb8b8"/><rect x="597.81" y="17" width="0.84" height="14" fill="#b8b8fc"/><rect x="598.59" y="17" width="0.84" height="14" fill="#ffb8b8"/><rect x="599.38" y="17" width="0.84" height="14" fill="#ffde9c"/><rect x="600.17" y="17" width="1.62" height="14" fill="#ffb8b8"/><rect x="601.74" y="17" width="0.84" height="14" fill="#9ad89a"/><rect x="602.53" y="17" width="0.84" height="14" fill="#ffde9c"/><rect x="603.31" y="17" width="1.62" height="14" fill="#9ad89a"/><rect x="604.89" y="17" width="0.84" height="14" fill="#ffb8b8"/><rect x="605.68" y="17" width="0.84" height="14" fill="#9ad89a"/><rect x="606.46" y="17" width="1.62" height="14" fill="#b8b8fc"/><rect x="608.04" y="17" width="1.62" height="14" fill="#ffb8b8"/><rect x="609.61" y="17" width="0.84" height="14" fill="#9ad89a"/><rect x="610.40" y="17" width="0.84" height="14" fill="#ffb8b8"/><rect x="611.18" y="17" width="1.62" height="14" fill="#9ad89a"/><rect x="612.76" y="17" width="0.84" height="14" fill="#ffde9c"/><rect x="613.55" y="17" width="0.84" height="14" fill="#b8b8fc"/><rect x="614.33" y="17" width="0.84" height="14" fill="#ffb8b8"/><rect x="615.12" y="17" width="0.84" height="14" fill="#b8b8fc"/><rect x="615.91" y="17" width="0.84" height="14" fill="#ffb8b8"/><rect x="616.69" y="17" width="0.84" height="14" fill="#b8b8fc"/><rect x="617.48" y="17" width="0.84" height="14" fill="#ffde9c"/><rect x="618.27" y="17" width="1.62" height="14" fill="#9ad89a"/><rect x="619.84" y="17" width="0.84" height="14" fill="#b8b8fc"/><rect x="620.63" y="17" width="2.41" height="14" fill="#9ad89a"/><rect x="622.99" y="17" width="0.84" height="14" fill="#b8b8fc"/><rect x="623.78" y="17" width="0.84" height="14" fill="#ffde9c"/><rect x="624.56" y="17" width="0.84" height="14" fill="#b8b8fc"/><rect x="625.35" y="17" width="0.84" height="14" fill="#9ad89a"/><rect x="626.14" y="17" width="0.84" height="14" fill="#b8b8fc"/><rect x="626.92" y="17" width="0.84" height="14" fill="#9ad89a"/><rect x="627.71" y="17" width="1.62" height="14" fill="#ffb8b8"/><rect x="629.29" y="17" width="1.62" height="14" fill="#b8b8fc"/><rect x="630.86" y="17" width="1.62" height="14" fill="#ffde9c"/><rect x="632.43" y="17" width="2.41" height="14" fill="#ffb8b8"/><rect x="634.79" y="17" width="2.41" height="14" fill="#9ad89a"/><rect x="637.16" y="17" width="1.62" height="14" fill="#b8b8fc"/><rect x="638.73" y="17" width="0.84" height="14" fill="#9ad89a"/><rect x="639.52" y="17" width="4.77" height="14" fill="#ffb8b8"/><rect x="644.24" y="17" width="0.84" height="14" fill="#9ad89a"/><rect x="645.03" y="17" width="1.62" height="14" fill="#b8b8fc"/><rect x="646.60" y="17" width="0.84" height="14" fill="#9ad89a"/><rect x="647.39" y="17" width="1.62" height="14" fill="#b8b8fc"/><rect x="648.96" y="17" width="0.84" height="14" fill="#ffb8b8"/><rect x="649.75" y="17" width="0.84" height="14" fill="#ffde9c"/><rect x="650.53" y="17" width="2.41" height="14" fill="#b8b8fc"/><rect x="652.90" y="17" width="0.84" height="14" fill="#9ad89a"/><rect x="653.68" y="17" width="0.84" height="14" fill="#ffde9c"/><rect x="654.47" y="17" width="1.62" height="14" fill="#9ad89a"/><rect x="656.04" y="17" width="2.41" height="14" fill="#b8b8fc"/><rect x="658.40" y="17" width="0.84" height="14" fill="#ffde9c"/><rect x="659.19" y="17" width="0.84" height="14" fill="#9ad89a"/><rect x="659.98" y="17" width="0.84" height="14" fill="#b8b8fc"/><rect x="660.77" y="17" width="0.84" height="14" fill="#9ad89a"/><rect x="661.55" y="17" width="0.84" height="14" fill="#b8b8fc"/><rect x="662.34" y="17" width="0.84" height="14" fill="#9ad89a"/><rect x="663.13" y="17" width="0.84" height="14" fill="#ffb8b8"/><rect x="663.91" y="17" width="0.84" height="14" fill="#b8b8fc"/><rect x="664.70" y="17" width="0.84" height="14" fill="#ffb8b8"/><rect x="665.49" y="17" width="0.84" height="14" fill="#9ad89a"/><rect x="666.27" y="17" width="0.84" height="14" fill="#ffb8b8"/><rect x="667.06" y="17" width="2.41" height="14" fill="#ffde9c"/><rect x="669.42" y="17" width="0.84" height="14" fill="#ffb8b8"/><rect x="670.21" y="17" width="0.84" height="14" fill="#ffde9c"/><rect x="671.00" y="17" width="0.84" height="14" fill="#9ad89a"/><rect x="671.78" y="17" width="1.62" height="14" fill="#ffde9c"/><rect x="673.36" y="17" width="0.84" height="14" fill="#b8b8fc"/><rect x="674.14" y="17" width="2.41" height="14" fill="#ffde9c"/><rect x="676.51" y="17" width="0.84" height="14" fill="#b8b8fc"/><rect x="677.29" y="17" width="0.84" height="14" fill="#ffde9c"/><rect x="678.08" y="17" width="0.84" height="14" fill="#9ad89a"/><rect x="678.87" y="17" width="0.84" height="14" fill="#ffb8b8"/><rect x="679.65" y="17" width="0.84" height="14" fill="#b8b8fc"/><rect x="680.44" y="17" width="2.41" height="14" fill="#ffb8b8"/><rect x="682.80" y="17" width="0.84" height="14" fill="#b8b8fc"/><rect x="683.59" y="17" width="0.84" height="14" fill="#ffde9c"/><rect x="684.38" y="17" width="0.84" height="14" fill="#ffb8b8"/><rect x="685.16" y="17" width="0.84" height="14" fill="#ffde9c"/><rect x="685.95" y="17" width="0.84" height="14" fill="#9ad89a"/><rect x="686.74" y="17" width="1.62" height="14" fill="#ffb8b8"/><rect x="688.31" y="17" width="0.84" height="14" fill="#ffde9c"/><rect x="689.10" y="17" width="0.84" height="14" fill="#9ad89a"/><rect x="689.88" y="17" width="2.41" height="14" fill="#ffde9c"/><rect x="692.25" y="17" width="2.41" height="14" fill="#ffb8b8"/><rect x="694.61" y="17" width="2.41" height="14" fill="#9ad89a"/><rect x="696.97" y="17" width="0.84" height="14" fill="#ffb8b8"/><rect x="697.75" y="17" width="0.84" height="14" fill="#9ad89a"/><rect x="698.54" y="17" width="0.84" height="14" fill="#b8b8fc"/><rect x="699.33" y="17" width="0.84" height="14" fill="#ffde9c"/><rect x="700.12" y="17" width="1.62" height="14" fill="#9ad89a"/><rect x="701.69" y="17" width="0.84" height="14" fill="#ffb8b8"/><rect x="702.48" y="17" width="0.84" height="14" fill="#9ad89a"/><rect x="703.26" y="17" width="3.20" height="14" fill="#b8b8fc"/><rect x="706.41" y="17" width="0.84" height="14" fill="#ffde9c"/><rect x="707.20" y="17" width="0.84" height="14" fill="#9ad89a"/><rect x="707.99" y="17" width="0.84" height="14" fill="#ffde9c"/><rect x="708.77" y="17" width="0.84" height="14" fill="#9ad89a"/><rect x="709.56" y="17" width="0.84" height="14" fill="#ffde9c"/><rect x="710.35" y="17" width="0.84" height="14" fill="#9ad89a"/><rect x="711.13" y="17" width="0.84" height="14" fill="#ffde9c"/><rect x="711.92" y="17" width="1.62" height="14" fill="#b8b8fc"/><rect x="713.50" y="17" width="0.84" height="14" fill="#ffde9c"/><rect x="714.28" y="17" width="0.84" height="14" fill="#ffb8b8"/><rect x="715.07" y="17" width="0.84" height="14" fill="#ffde9c"/><rect x="715.86" y="17" width="1.62" height="14" fill="#ffb8b8"/><rect x="717.43" y="17" width="0.84" height="14" fill="#ffde9c"/><rect x="718.22" y="17" width="1.62" height="14" fill="#ffb8b8"/><rect x="719.79" y="17" width="0.84" height="14" fill="#ffde9c"/><rect x="720.58" y="17" width="0.84" height="14" fill="#b8b8fc"/><rect x="721.37" y="17" width="0.84" height="14" fill="#ffde9c"/><rect x="722.15" y="17" width="0.84" height="14" fill="#9ad89a"/><rect x="722.94" y="17" width="0.84" height="14" fill="#b8b8fc"/><rect x="723.73" y="17" width="0.84" height="14" fill="#ffb8b8"/><rect x="724.51" y="17" width="0.84" height="14" fill="#ffde9c"/><rect x="725.30" y="17" width="0.84" height="14" fill="#b8b8fc"/><rect x="726.09" y="17" width="0.84" height="14" fill="#9ad89a"/><rect x="726.87" y="17" width="1.62" height="14" fill="#b8b8fc"/><rect x="728.45" y="17" width="0.84" height="14" fill="#ffb8b8"/><rect x="729.24" y="17" width="0.84" height="14" fill="#ffde9c"/><rect x="730.02" y="17" width="0.84" height="14" fill="#ffb8b8"/><rect x="730.81" y="17" width="0.84" height="14" fill="#b8b8fc"/><rect x="731.60" y="17" width="0.84" height="14" fill="#ffb8b8"/><rect x="732.38" y="17" width="0.84" height="14" fill="#b8b8fc"/><rect x="733.17" y="17" width="1.62" height="14" fill="#ffb8b8"/><rect x="734.74" y="17" width="2.41" height="14" fill="#ffde9c"/><rect x="737.11" y="17" width="3.20" height="14" fill="#ffb8b8"/><rect x="740.25" y="17" width="0.84" height="14" fill="#9ad89a"/><rect x="741.04" y="17" width="0.84" height="14" fill="#b8b8fc"/><rect x="741.83" y="17" width="2.41" height="14" fill="#9ad89a"/><rect x="744.19" y="17" width="0.84" height="14" fill="#ffb8b8"/><rect x="744.98" y="17" width="0.84" height="14" fill="#9ad89a"/><rect x="745.76" y="17" width="0.84" height="14" fill="#ffde9c"/><rect x="746.55" y="17" width="0.84" height="14" fill="#b8b8fc"/><rect x="747.34" y="17" width="0.84" height="14" fill="#ffb8b8"/><rect x="748.12" y="17" width="1.62" height="14" fill="#9ad89a"/><rect x="749.70" y="17" width="0.84" height="14" fill="#ffb8b8"/><rect x="750.48" y="17" width="0.84" height="14" fill="#9ad89a"/><rect x="751.27" y="17" width="0.84" height="14" fill="#ffde9c"/><rect x="752.06" y="17" width="0.84" height="14" fill="#9ad89a"/><rect x="752.85" y="17" width="0.84" height="14" fill="#b8b8fc"/><rect x="753.63" y="17" width="1.62" height="14" fill="#9ad89a"/><rect x="755.21" y="17" width="0.84" height="14" fill="#ffde9c"/><rect x="755.99" y="17" width="0.84" height="14" fill="#ffb8b8"/><rect x="756.78" y="17" width="0.84" height="14" fill="#b8b8fc"/><rect x="757.57" y="17" width="0.84" height="14" fill="#9ad89a"/><rect x="758.35" y="17" width="0.84" height="14" fill="#ffde9c"/><rect x="759.14" y="17" width="2.41" height="14" fill="#ffb8b8"/><rect x="761.50" y="17" width="0.84" height="14" fill="#b8b8fc"/><rect x="762.29" y="17" width="0.84" height="14" fill="#ffb8b8"/><rect x="763.08" y="17" width="1.62" height="14" fill="#b8b8fc"/><rect x="764.65" y="17" width="1.62" height="14" fill="#ffb8b8"/><rect x="766.22" y="17" width="1.62" height="14" fill="#ffde9c"/><rect x="767.80" y="17" width="0.84" height="14" fill="#b8b8fc"/><rect x="768.59" y="17" width="0.84" height="14" fill="#ffde9c"/><rect x="769.37" y="17" width="2.41" height="14" fill="#9ad89a"/><rect x="771.73" y="17" width="0.84" height="14" fill="#b8b8fc"/><rect x="772.52" y="17" width="0.84" height="14" fill="#ffde9c"/><rect x="773.31" y="17" width="0.84" height="14" fill="#ffb8b8"/><rect x="774.09" y="17" width="0.84" height="14" fill="#ffde9c"/><rect x="774.88" y="17" width="0.84" height="14" fill="#b8b8fc"/><rect x="775.67" y="17" width="0.84" height="14" fill="#ffb8b8"/><rect x="776.46" y="17" width="0.84" height="14" fill="#b8b8fc"/><rect x="777.24" y="17" width="0.84" height="14" fill="#ffde9c"/><rect x="778.03" y="17" width="0.84" height="14" fill="#b8b8fc"/><rect x="778.82" y="17" width="1.62" height="14" fill="#9ad89a"/><rect x="780.39" y="17" width="0.84" height="14" fill="#ffde9c"/><rect x="781.18" y="17" width="1.62" height="14" fill="#b8b8fc"/><rect x="782.75" y="17" width="0.84" height="14" fill="#ffde9c"/><rect x="783.54" y="17" width="0.84" height="14" fill="#ffb8b8"/><rect x="784.33" y="17" width="0.84" height="14" fill="#9ad89a"/><rect x="785.11" y="17" width="2.41" height="14" fill="#ffb8b8"/><rect x="787.47" y="17" width="0.84" height="14" fill="#ffde9c"/><rect x="788.26" y="17" width="0.84" height="14" fill="#b8b8fc"/><rect x="789.05" y="17" width="1.62" height="14" fill="#ffde9c"/><rect x="790.62" y="17" width="0.84" height="14" fill="#ffb8b8"/><rect x="791.41" y="17" width="0.84" height="14" fill="#9ad89a"/><rect x="792.20" y="17" width="2.41" height="14" fill="#b8b8fc"/><rect x="794.56" y="17" width="0.84" height="14" fill="#ffde9c"/><rect x="795.34" y="17" width="0.84" height="14" fill="#ffb8b8"/><rect x="796.13" y="17" width="0.84" height="14" fill="#b8b8fc"/><rect x="796.92" y="17" width="0.84" height="14" fill="#ffb8b8"/><rect x="797.70" y="17" width="0.84" height="14" fill="#ffde9c"/><rect x="798.49" y="17" width="0.84" height="14" fill="#ffb8b8"/><rect x="799.28" y="17" width="0.84" height="14" fill="#ffde9c"/><rect x="800.07" y="17" width="0.84" height="14" fill="#ffb8b8"/><rect x="800.85" y="17" width="0.84" height="14" fill="#9ad89a"/><rect x="801.64" y="17" width="0.84" height="14" fill="#ffb8b8"/><rect x="802.43" y="17" width="0.84" height="14" fill="#9ad89a"/><rect x="803.21" y="17" width="0.84" height="14" fill="#b8b8fc"/><rect x="804.00" y="17" width="0.84" height="14" fill="#ffb8b8"/><rect x="804.79" y="17" width="0.84" height="14" fill="#9ad89a"/><rect x="805.57" y="17" width="3.20" height="14" fill="#b8b8fc"/><rect x="808.72" y="17" width="0.84" height="14" fill="#9ad89a"/><rect x="809.51" y="17" width="0.84" height="14" fill="#ffb8b8"/><rect x="810.30" y="17" width="0.84" height="14" fill="#ffde9c"/><rect x="811.08" y="17" width="0.84" height="14" fill="#9ad89a"/><rect x="811.87" y="17" width="1.62" height="14" fill="#ffb8b8"/><rect x="813.44" y="17" width="0.84" height="14" fill="#b8b8fc"/><rect x="814.23" y="17" width="1.62" height="14" fill="#ffb8b8"/><rect x="815.81" y="17" width="0.84" height="14" fill="#9ad89a"/><rect x="816.59" y="17" width="0.84" height="14" fill="#b8b8fc"/><rect x="817.38" y="17" width="0.84" height="14" fill="#ffb8b8"/><rect x="818.17" y="17" width="0.84" height="14" fill="#ffde9c"/><rect x="818.95" y="17" width="1.62" height="14" fill="#ffb8b8"/><rect x="820.53" y="17" width="0.84" height="14" fill="#ffde9c"/><rect x="821.31" y="17" width="1.62" height="14" fill="#b8b8fc"/><rect x="822.89" y="17" width="1.62" height="14" fill="#ffde9c"/><rect x="824.46" y="17" width="0.84" height="14" fill="#b8b8fc"/><rect x="825.25" y="17" width="0.84" height="14" fill="#ffde9c"/><rect x="826.04" y="17" width="1.62" height="14" fill="#b8b8fc"/><rect x="827.61" y="17" width="0.84" height="14" fill="#ffb8b8"/><rect x="828.40" y="17" width="0.84" height="14" fill="#b8b8fc"/><rect x="829.18" y="17" width="1.62" height="14" fill="#ffb8b8"/><rect x="830.76" y="17" width="0.84" height="14" fill="#ffde9c"/><rect x="831.55" y="17" width="0.84" height="14" fill="#ffb8b8"/><rect x="832.33" y="17" width="0.84" height="14" fill="#ffde9c"/><rect x="833.12" y="17" width="0.84" height="14" fill="#b8b8fc"/><rect x="833.91" y="17" width="0.84" height="14" fill="#9ad89a"/><rect x="834.69" y="17" width="1.62" height="14" fill="#ffb8b8"/><rect x="836.27" y="17" width="0.84" height="14" fill="#ffde9c"/><rect x="837.05" y="17" width="0.84" height="14" fill="#b8b8fc"/><rect x="837.84" y="17" width="2.41" height="14" fill="#ffb8b8"/><rect x="840.20" y="17" width="0.84" height="14" fill="#9ad89a"/><rect x="840.99" y="17" width="0.84" height="14" fill="#ffde9c"/><rect x="841.78" y="17" width="1.62" height="14" fill="#ffb8b8"/><rect x="843.35" y="17" width="0.84" height="14" fill="#ffde9c"/><rect x="844.14" y="17" width="0.84" height="14" fill="#ffb8b8"/><rect x="844.92" y="17" width="0.84" height="14" fill="#b8b8fc"/><rect x="845.71" y="17" width="0.84" height="14" fill="#ffb8b8"/><rect x="846.50" y="17" width="3.20" height="14" fill="#b8b8fc"/><rect x="849.65" y="17" width="0.84" height="14" fill="#ffde9c"/><rect x="850.43" y="17" width="0.84" height="14" fill="#b8b8fc"/><rect x="851.22" y="17" width="0.84" height="14" fill="#ffde9c"/><rect x="852.01" y="17" width="0.84" height="14" fill="#9ad89a"/><rect x="852.79" y="17" width="0.84" height="14" fill="#ffb8b8"/><rect x="853.58" y="17" width="1.62" height="14" fill="#ffde9c"/><rect x="855.16" y="17" width="0.84" height="14" fill="#ffb8b8"/><rect x="855.94" y="17" width="0.84" height="14" fill="#b8b8fc"/><rect x="856.73" y="17" width="1.62" height="14" fill="#ffb8b8"/><rect x="858.30" y="17" width="0.84" height="14" fill="#ffde9c"/><rect x="859.09" y="17" width="0.84" height="14" fill="#ffb8b8"/><rect x="859.88" y="17" width="0.84" height="14" fill="#ffde9c"/><rect x="860.66" y="17" width="0.84" height="14" fill="#b8b8fc"/><rect x="861.45" y="17" width="1.62" height="14" fill="#ffb8b8"/><rect x="863.03" y="17" width="2.41" height="14" fill="#9ad89a"/><rect x="865.39" y="17" width="0.84" height="14" fill="#b8b8fc"/><rect x="866.17" y="17" width="2.41" height="14" fill="#9ad89a"/><rect x="868.53" y="17" width="1.62" height="14" fill="#ffb8b8"/><rect x="870.11" y="17" width="3.20" height="14" fill="#ffde9c"/><rect x="873.26" y="17" width="0.84" height="14" fill="#ffb8b8"/><rect x="874.04" y="17" width="1.62" height="14" fill="#ffde9c"/><rect x="875.62" y="17" width="0.84" height="14" fill="#ffb8b8"/><rect x="876.40" y="17" width="0.84" height="14" fill="#9ad89a"/><rect x="877.19" y="17" width="0.84" height="14" fill="#b8b8fc"/><rect x="877.98" y="17" width="2.41" height="14" fill="#ffb8b8"/><rect x="880.34" y="17" width="0.84" height="14" fill="#9ad89a"/><rect x="881.13" y="17" width="1.62" height="14" fill="#ffde9c"/><rect x="882.70" y="17" width="0.84" height="14" fill="#ffb8b8"/><rect x="883.49" y="17" width="0.84" height="14" fill="#ffde9c"/><rect x="884.27" y="17" width="0.84" height="14" fill="#9ad89a"/><rect x="885.06" y="17" width="0.84" height="14" fill="#ffb8b8"/><rect x="885.85" y="17" width="1.62" height="14" fill="#9ad89a"/><rect x="887.42" y="17" width="1.62" height="14" fill="#ffde9c"/><rect x="889.00" y="17" width="3.20" height="14" fill="#ffb8b8"/><rect x="892.14" y="17" width="0.84" height="14" fill="#b8b8fc"/><rect x="892.93" y="17" width="0.84" height="14" fill="#9ad89a"/><rect x="893.72" y="17" width="0.84" height="14" fill="#b8b8fc"/><rect x="894.51" y="17" width="1.62" height="14" fill="#ffde9c"/><rect x="896.08" y="17" width="0.84" height="14" fill="#b8b8fc"/><rect x="896.87" y="17" width="0.84" height="14" fill="#9ad89a"/><rect x="897.65" y="17" width="0.84" height="14" fill="#b8b8fc"/><rect x="898.44" y="17" width="0.84" height="14" fill="#ffb8b8"/><rect x="899.23" y="17" width="2.41" height="14" fill="#b8b8fc"/><rect x="901.59" y="17" width="0.84" height="14" fill="#9ad89a"/><rect x="902.38" y="17" width="0.84" height="14" fill="#b8b8fc"/><rect x="903.16" y="17" width="1.62" height="14" fill="#ffb8b8"/><rect x="904.74" y="17" width="0.84" height="14" fill="#9ad89a"/><rect x="905.52" y="17" width="2.41" height="14" fill="#b8b8fc"/><rect x="907.88" y="17" width="0.84" height="14" fill="#ffb8b8"/><rect x="908.67" y="17" width="0.84" height="14" fill="#b8b8fc"/><rect x="909.46" y="17" width="0.84" height="14" fill="#ffb8b8"/><rect x="910.25" y="17" width="1.62" height="14" fill="#b8b8fc"/><rect x="911.82" y="17" width="1.62" height="14" fill="#ffde9c"/><rect x="913.39" y="17" width="0.84" height="14" fill="#9ad89a"/><rect x="914.18" y="17" width="0.84" height="14" fill="#b8b8fc"/><rect x="914.97" y="17" width="0.84" height="14" fill="#ffb8b8"/><rect x="915.75" y="17" width="0.84" height="14" fill="#9ad89a"/><rect x="916.54" y="17" width="0.84" height="14" fill="#ffb8b8"/><rect x="917.33" y="17" width="0.84" height="14" fill="#b8b8fc"/><rect x="918.12" y="17" width="0.84" height="14" fill="#9ad89a"/><rect x="918.90" y="17" width="0.84" height="14" fill="#ffb8b8"/><rect x="919.69" y="17" width="0.84" height="14" fill="#9ad89a"/><rect x="920.48" y="17" width="1.62" height="14" fill="#ffb8b8"/><rect x="922.05" y="17" width="1.62" height="14" fill="#b8b8fc"/><rect x="923.62" y="17" width="0.84" height="14" fill="#9ad89a"/><rect x="924.41" y="17" width="1.62" height="14" fill="#b8b8fc"/><rect x="925.99" y="17" width="0.84" height="14" fill="#9ad89a"/><rect x="926.77" y="17" width="0.84" height="14" fill="#ffde9c"/><rect x="927.56" y="17" width="1.62" height="14" fill="#ffb8b8"/><rect x="929.13" y="17" width="1.62" height="14" fill="#b8b8fc"/><rect x="930.71" y="17" width="0.84" height="14" fill="#ffb8b8"/><rect x="931.49" y="17" width="0.84" height="14" fill="#9ad89a"/><rect x="932.28" y="17" width="0.84" height="14" fill="#ffde9c"/><rect x="933.07" y="17" width="0.84" height="14" fill="#ffb8b8"/><rect x="933.86" y="17" width="0.84" height="14" fill="#ffde9c"/><rect x="934.64" y="17" width="0.84" height="14" fill="#ffb8b8"/><rect x="935.43" y="17" width="0.84" height="14" fill="#9ad89a"/><rect x="936.22" y="17" width="1.62" height="14" fill="#ffb8b8"/><rect x="937.79" y="17" width="0.84" height="14" fill="#b8b8fc"/><rect x="938.58" y="17" width="0.84" height="14" fill="#9ad89a"/><rect x="939.36" y="17" width="0.84" height="14" fill="#ffb8b8"/><rect x="940.15" y="17" width="0.84" height="14" fill="#9ad89a"/><rect x="940.94" y="17" width="0.84" height="14" fill="#ffb8b8"/><rect x="941.73" y="17" width="0.84" height="14" fill="#ffde9c"/><rect x="942.51" y="17" width="2.41" height="14" fill="#9ad89a"/><rect x="944.87" y="17" width="1.62" height="14" fill="#ffde9c"/><rect x="946.45" y="17" width="0.84" height="14" fill="#b8b8fc"/><rect x="947.23" y="17" width="0.84" height="14" fill="#ffb8b8"/><rect x="948.02" y="17" width="0.84" height="14" fill="#b8b8fc"/><rect x="948.81" y="17" width="0.84" height="14" fill="#ffde9c"/><rect x="949.60" y="17" width="2.41" height="14" fill="#ffb8b8"/><rect x="951.96" y="17" width="0.84" height="14" fill="#ffde9c"/><rect x="952.74" y="17" width="0.84" height="14" fill="#b8b8fc"/><rect x="953.53" y="17" width="0.84" height="14" fill="#ffb8b8"/><rect x="954.32" y="17" width="0.84" height="14" fill="#ffde9c"/><rect x="955.10" y="17" width="0.84" height="14" fill="#ffb8b8"/><rect x="955.89" y="17" width="0.84" height="14" fill="#9ad89a"/><rect x="956.68" y="17" width="0.84" height="14" fill="#b8b8fc"/><rect x="957.47" y="17" width="1.62" height="14" fill="#ffde9c"/><rect x="959.04" y="17" width="0.84" height="14" fill="#9ad89a"/><rect x="959.83" y="17" width="0.84" height="14" fill="#b8b8fc"/><rect x="960.61" y="17" width="0.84" height="14" fill="#ffde9c"/><rect x="961.40" y="17" width="0.84" height="14" fill="#9ad89a"/><rect x="962.19" y="17" width="0.84" height="14" fill="#ffde9c"/><rect x="962.97" y="17" width="0.84" height="14" fill="#ffb8b8"/><rect x="963.76" y="17" width="0.84" height="14" fill="#b8b8fc"/><rect x="964.55" y="17" width="0.50" height="14" fill="#ffb8b8"/></svg><div class="a" style="left:17px;top:17px;width:948px;height:3px;background:linear-gradient(to bottom,rgba(255,255,255,0.4),rgba(255,255,255,0));"></div><svg width="973" height="525"><rect x="17" y="39" width="947" height="2" fill="#000"/><rect x="68.0" y="41" width="2" height="6.5" fill="#000"/><rect x="147.1" y="41" width="1" height="5" fill="#000"/><rect x="225.2" y="41" width="2" height="6.5" fill="#000"/><rect x="304.3" y="41" width="1" height="5" fill="#000"/><rect x="382.4" y="41" width="2" height="6.5" fill="#000"/><rect x="461.5" y="41" width="1" height="5" fill="#000"/><rect x="539.6" y="41" width="2" height="6.5" fill="#000"/><rect x="618.7" y="41" width="1" height="5" fill="#000"/><rect x="696.8" y="41" width="2" height="6.5" fill="#000"/><rect x="775.9" y="41" width="1" height="5" fill="#000"/><rect x="854.0" y="41" width="2" height="6.5" fill="#000"/><rect x="933.1" y="41" width="1" height="5" fill="#000"/></svg><div class="t " id="r69" style="left:40.8px;top:53.1px;font-size:9.7px;letter-spacing:0.1px;color:#000;transform-origin:0 0;transform:scaleX(1.1826);">20,084.8 K</div><div class="t " id="r226" style="left:198.0px;top:53.1px;font-size:9.7px;letter-spacing:0.1px;color:#000;transform-origin:0 0;transform:scaleX(1.1826);">20,085.0 K</div><div class="t " id="r383" style="left:355.2px;top:53.1px;font-size:9.7px;letter-spacing:0.1px;color:#000;transform-origin:0 0;transform:scaleX(1.1826);">20,085.2 K</div><div class="t " id="r540" style="left:512.4px;top:53.1px;font-size:9.7px;letter-spacing:0.1px;color:#000;transform-origin:0 0;transform:scaleX(1.1826);">20,085.4 K</div><div class="t " id="r697" style="left:669.6px;top:53.1px;font-size:9.7px;letter-spacing:0.1px;color:#000;transform-origin:0 0;transform:scaleX(1.1826);">20,085.6 K</div><div class="t " id="r855" style="left:826.8px;top:53.1px;font-size:9.7px;letter-spacing:0.1px;color:#000;transform-origin:0 0;transform:scaleX(1.1826);">20,085.8 K</div><div class="t " id="l1" style="left:17.4px;top:75.5px;font-size:12.5px;letter-spacing:0.2px;color:#484848;transform-origin:0 0;transform:scaleX(1.0744);">Gnomon gene models</div><div class="t " id="l1d" style="left:162px;top:75.5px;font-size:12.5px;letter-spacing:0.2px;color:#c4c4c4;transform-origin:0 0;transform:scaleX(1.0879);">Gene models downloaded from NCBI.</div><div class="t " id="l2" style="left:17.2px;top:182.5px;font-size:12.5px;letter-spacing:0.2px;color:#484848;transform-origin:0 0;transform:scaleX(1.0852);">Transcriptome</div><div class="t " id="l2d" style="left:114.5px;top:182.5px;font-size:12.5px;letter-spacing:0.2px;color:#c4c4c4;transform-origin:0 0;transform:scaleX(1.0891);">Coffea eugenioides transcriptome. Reads from NCBI: SRR1768422.fastq aligned by hisat2 (2.2.1)</div><div class="t " id="l3" style="left:17.4px;top:243.5px;font-size:12.5px;letter-spacing:0.2px;color:#484848;transform-origin:0 0;transform:scaleX(1.0993);">Manual annotation</div><svg width="973" height="525"><rect x="32" y="103.5" width="585" height="2.8" fill="#dcf0dc"/><rect x="617" y="94.1" width="217" height="3.8" fill="#369c36"/><rect x="919" y="94.1" width="46" height="3.8" fill="#369c36"/><rect x="32.5" y="89.4" width="584" height="13.899999999999991" fill="#86e086" stroke="#369c36" stroke-width="1"/><rect x="834.5" y="89.4" width="84" height="13.899999999999991" fill="#86e086" stroke="#369c36" stroke-width="1"/><path d="M609.50 89.40 L615.00 96.35 L609.50 103.30 M594.50 89.40 L600.00 96.35 L594.50 103.30 M579.50 89.40 L585.00 96.35 L579.50 103.30 M564.50 89.40 L570.00 96.35 L564.50 103.30 M549.50 89.40 L555.00 96.35 L549.50 103.30 M534.50 89.40 L540.00 96.35 L534.50 103.30 M519.50 89.40 L525.00 96.35 L519.50 103.30 M504.50 89.40 L510.00 96.35 L504.50 103.30 M489.50 89.40 L495.00 96.35 L489.50 103.30 M474.50 89.40 L480.00 96.35 L474.50 103.30 M459.50 89.40 L465.00 96.35 L459.50 103.30 M444.50 89.40 L450.00 96.35 L444.50 103.30 M429.50 89.40 L435.00 96.35 L429.50 103.30 M414.50 89.40 L420.00 96.35 L414.50 103.30 M399.50 89.40 L405.00 96.35 L399.50 103.30 M384.50 89.40 L390.00 96.35 L384.50 103.30 M369.50 89.40 L375.00 96.35 L369.50 103.30 M354.50 89.40 L360.00 96.35 L354.50 103.30 M339.50 89.40 L345.00 96.35 L339.50 103.30 M324.50 89.40 L330.00 96.35 L324.50 103.30 M309.50 89.40 L315.00 96.35 L309.50 103.30 M294.50 89.40 L300.00 96.35 L294.50 103.30 M279.50 89.40 L285.00 96.35 L279.50 103.30 M264.50 89.40 L270.00 96.35 L264.50 103.30 M249.50 89.40 L255.00 96.35 L249.50 103.30 M234.50 89.40 L240.00 96.35 L234.50 103.30 M219.50 89.40 L225.00 96.35 L219.50 103.30 M204.50 89.40 L210.00 96.35 L204.50 103.30 M189.50 89.40 L195.00 96.35 L189.50 103.30 M174.50 89.40 L180.00 96.35 L174.50 103.30 M159.50 89.40 L165.00 96.35 L159.50 103.30 M144.50 89.40 L150.00 96.35 L144.50 103.30 M129.50 89.40 L135.00 96.35 L129.50 103.30 M114.50 89.40 L120.00 96.35 L114.50 103.30 M99.50 89.40 L105.00 96.35 L99.50 103.30 M84.50 89.40 L90.00 96.35 L84.50 103.30 M69.50 89.40 L75.00 96.35 L69.50 103.30 M54.50 89.40 L60.00 96.35 L54.50 103.30 M39.50 89.40 L45.00 96.35 L39.50 103.30 M911.50 89.40 L917.00 96.35 L911.50 103.30 M896.50 89.40 L902.00 96.35 L896.50 103.30 M881.50 89.40 L887.00 96.35 L881.50 103.30 M866.50 89.40 L872.00 96.35 L866.50 103.30 M851.50 89.40 L857.00 96.35 L851.50 103.30 M836.50 89.40 L842.00 96.35 L836.50 103.30" fill="none" stroke="#369c36" stroke-width="1.15" stroke-linejoin="miter"/><rect x="443" y="88.9" width="174" height="5.2" fill="#369c36"/><rect x="834" y="88.9" width="85" height="5.2" fill="#369c36"/><rect x="617" y="111.1" width="233" height="3.8" fill="#369c36"/><rect x="919" y="111.1" width="46" height="3.8" fill="#369c36"/><rect x="32.5" y="106.4" width="584" height="14.0" fill="#86e086" stroke="#369c36" stroke-width="1"/><rect x="850.5" y="106.4" width="68" height="14.0" fill="#86e086" stroke="#369c36" stroke-width="1"/><path d="M609.50 106.40 L615.00 113.40 L609.50 120.40 M594.50 106.40 L600.00 113.40 L594.50 120.40 M579.50 106.40 L585.00 113.40 L579.50 120.40 M564.50 106.40 L570.00 113.40 L564.50 120.40 M549.50 106.40 L555.00 113.40 L549.50 120.40 M534.50 106.40 L540.00 113.40 L534.50 120.40 M519.50 106.40 L525.00 113.40 L519.50 120.40 M504.50 106.40 L510.00 113.40 L504.50 120.40 M489.50 106.40 L495.00 113.40 L489.50 120.40 M474.50 106.40 L480.00 113.40 L474.50 120.40 M459.50 106.40 L465.00 113.40 L459.50 120.40 M444.50 106.40 L450.00 113.40 L444.50 120.40 M429.50 106.40 L435.00 113.40 L429.50 120.40 M414.50 106.40 L420.00 113.40 L414.50 120.40 M399.50 106.40 L405.00 113.40 L399.50 120.40 M384.50 106.40 L390.00 113.40 L384.50 120.40 M369.50 106.40 L375.00 113.40 L369.50 120.40 M354.50 106.40 L360.00 113.40 L354.50 120.40 M339.50 106.40 L345.00 113.40 L339.50 120.40 M324.50 106.40 L330.00 113.40 L324.50 120.40 M309.50 106.40 L315.00 113.40 L309.50 120.40 M294.50 106.40 L300.00 113.40 L294.50 120.40 M279.50 106.40 L285.00 113.40 L279.50 120.40 M264.50 106.40 L270.00 113.40 L264.50 120.40 M249.50 106.40 L255.00 113.40 L249.50 120.40 M234.50 106.40 L240.00 113.40 L234.50 120.40 M219.50 106.40 L225.00 113.40 L219.50 120.40 M204.50 106.40 L210.00 113.40 L204.50 120.40 M189.50 106.40 L195.00 113.40 L189.50 120.40 M174.50 106.40 L180.00 113.40 L174.50 120.40 M159.50 106.40 L165.00 113.40 L159.50 120.40 M144.50 106.40 L150.00 113.40 L144.50 120.40 M129.50 106.40 L135.00 113.40 L129.50 120.40 M114.50 106.40 L120.00 113.40 L114.50 120.40 M99.50 106.40 L105.00 113.40 L99.50 120.40 M84.50 106.40 L90.00 113.40 L84.50 120.40 M69.50 106.40 L75.00 113.40 L69.50 120.40 M54.50 106.40 L60.00 113.40 L54.50 120.40 M39.50 106.40 L45.00 113.40 L39.50 120.40 M911.50 106.40 L917.00 113.40 L911.50 120.40 M896.50 106.40 L902.00 113.40 L896.50 120.40 M881.50 106.40 L887.00 113.40 L881.50 120.40 M866.50 106.40 L872.00 113.40 L866.50 120.40 M851.50 106.40 L857.00 113.40 L851.50 120.40" fill="none" stroke="#369c36" stroke-width="1.15" stroke-linejoin="miter"/><rect x="443" y="105.9" width="174" height="5.2" fill="#369c36"/><rect x="850" y="105.9" width="69" height="5.2" fill="#369c36"/><rect x="32" y="123" width="933" height="4.8" fill="#a9a9a9"/><rect x="617" y="279.05" width="217" height="3.9" fill="#0f5c9e"/><rect x="919" y="279.05" width="46" height="3.9" fill="#0f5c9e"/><rect x="32.5" y="274.5" width="584" height="13.899999999999977" fill="#5aacec" stroke="#0f5c9e" stroke-width="1"/><rect x="834.5" y="274.5" width="84" height="13.899999999999977" fill="#5aacec" stroke="#0f5c9e" stroke-width="1"/><path d="M609.50 274.50 L615.00 281.45 L609.50 288.40 M594.50 274.50 L600.00 281.45 L594.50 288.40 M579.50 274.50 L585.00 281.45 L579.50 288.40 M564.50 274.50 L570.00 281.45 L564.50 288.40 M549.50 274.50 L555.00 281.45 L549.50 288.40 M534.50 274.50 L540.00 281.45 L534.50 288.40 M519.50 274.50 L525.00 281.45 L519.50 288.40 M504.50 274.50 L510.00 281.45 L504.50 288.40 M489.50 274.50 L495.00 281.45 L489.50 288.40 M474.50 274.50 L480.00 281.45 L474.50 288.40 M459.50 274.50 L465.00 281.45 L459.50 288.40 M444.50 274.50 L450.00 281.45 L444.50 288.40 M429.50 274.50 L435.00 281.45 L429.50 288.40 M414.50 274.50 L420.00 281.45 L414.50 288.40 M399.50 274.50 L405.00 281.45 L399.50 288.40 M384.50 274.50 L390.00 281.45 L384.50 288.40 M369.50 274.50 L375.00 281.45 L369.50 288.40 M354.50 274.50 L360.00 281.45 L354.50 288.40 M339.50 274.50 L345.00 281.45 L339.50 288.40 M324.50 274.50 L330.00 281.45 L324.50 288.40 M309.50 274.50 L315.00 281.45 L309.50 288.40 M294.50 274.50 L300.00 281.45 L294.50 288.40 M279.50 274.50 L285.00 281.45 L279.50 288.40 M264.50 274.50 L270.00 281.45 L264.50 288.40 M249.50 274.50 L255.00 281.45 L249.50 288.40 M234.50 274.50 L240.00 281.45 L234.50 288.40 M219.50 274.50 L225.00 281.45 L219.50 288.40 M204.50 274.50 L210.00 281.45 L204.50 288.40 M189.50 274.50 L195.00 281.45 L189.50 288.40 M174.50 274.50 L180.00 281.45 L174.50 288.40 M159.50 274.50 L165.00 281.45 L159.50 288.40 M144.50 274.50 L150.00 281.45 L144.50 288.40 M129.50 274.50 L135.00 281.45 L129.50 288.40 M114.50 274.50 L120.00 281.45 L114.50 288.40 M99.50 274.50 L105.00 281.45 L99.50 288.40 M84.50 274.50 L90.00 281.45 L84.50 288.40 M69.50 274.50 L75.00 281.45 L69.50 288.40 M54.50 274.50 L60.00 281.45 L54.50 288.40 M39.50 274.50 L45.00 281.45 L39.50 288.40 M911.50 274.50 L917.00 281.45 L911.50 288.40 M896.50 274.50 L902.00 281.45 L896.50 288.40 M881.50 274.50 L887.00 281.45 L881.50 288.40 M866.50 274.50 L872.00 281.45 L866.50 288.40 M851.50 274.50 L857.00 281.45 L851.50 288.40 M836.50 274.50 L842.00 281.45 L836.50 288.40" fill="none" stroke="#0f5c9e" stroke-width="1.15" stroke-linejoin="miter"/><rect x="443" y="274" width="174" height="5.0" fill="#0f5c9e"/><rect x="834" y="274" width="85" height="5.0" fill="#0f5c9e"/><rect x="359" y="272.4" width="5" height="19" fill="#0f5c9e"/></svg><svg width="973" height="525"><path d="M39 201.3 L39 207.3 L115.8 207.3 L115.8 211.4 L117.8 211.4 L117.8 207.3 L126 207.3 L126 211.4 L194.3 211.4 L194.3 207.3 L205 207.3 L205 201.3 Z" fill="#c0fcc0"/><rect x="126" y="201.3" width="68.3" height="10.1" fill="#b2fbb2"/><rect x="200.9" y="201.3" width="1.3" height="6.2" fill="#3a4ee0"/><defs><linearGradient id="cg" gradientUnits="userSpaceOnUse" x1="246" y1="0" x2="617" y2="0"><stop offset="0.0000" stop-color="#c0fcc0"/><stop offset="0.1049" stop-color="#c0fcc0"/><stop offset="0.1054" stop-color="#b2fab2"/><stop offset="0.1507" stop-color="#b0fab0"/><stop offset="0.1512" stop-color="#a8faa8"/><stop offset="0.1806" stop-color="#a2f9a2"/><stop offset="0.2049" stop-color="#9af89a"/><stop offset="0.2318" stop-color="#92f892"/><stop offset="0.2534" stop-color="#8cf78c"/><stop offset="0.2803" stop-color="#88f788"/><stop offset="1.0000" stop-color="#86f686"/></linearGradient></defs><path d="M246.9 201.3 L246.9 207.4 L285 207.4 L285 211.4 L302 211.4 L302 214.2 L313 214.2 L313 216.3 L318 216.3 L318 218.1 L322.3 218.1 L322.3 219.4 L326.6 219.4 L326.6 218.6 L329 218.6 L329 219.6 L332.2 221 L332.2 223.4 L345.8 223.4 L345.8 225.9 L353 225.9 L353 227.4 L362 227.6 L362 228.4 L372 228.6 L372 229.2 L384 229.4 L384 229.9 L395 230 L395 230.6 L405 230.4 L420 230 L436 230.4 L450 229.8 L465 230 L480 229.2 L495 228.2 L508 227.2 L520 226.2 L530 224.7 L540 223 L547 221.2 L549 219.7 L552 221.2 L556 222.2 L566 223.2 L580 224.7 L595 226.2 L608 227.5 L617 228 L617 201.3 Z" fill="url(#cg)"/><path d="M617 201.3 L617 227.8 L760 227.8 L760 229 L833 229 L833 230.8 L886 230.8 L886 229.5 L892 229.5 L892 230.8 L919 230.8 L919 229 L930 229 L930 227.8 L963 227.8 L963 201.3 Z" fill="#b6fcb6"/><rect x="760" y="201.3" width="73" height="27.7" fill="#b0fcb0"/><path d="M833 201.3 L833 229 L838 229 L838 230.8 L886 230.8 L886 229.5 L892 229.5 L892 230.8 L919 230.8 L919 201.3 Z" fill="#86f686"/><rect x="886" y="201.3" width="6" height="28.2" fill="#90f890"/><rect x="370" y="201.0" width="1" height="1.5" fill="#4a6ae8"/><rect x="417" y="201.0" width="1" height="1.5" fill="#e8a040"/><rect x="418.5" y="201.0" width="1" height="1.5" fill="#e05050"/><rect x="440" y="201.0" width="1" height="1.5" fill="#4a6ae8"/><rect x="470" y="201.0" width="1" height="1.5" fill="#4a6ae8"/><rect x="478" y="201.0" width="1" height="2" fill="#4a6ae8"/><rect x="507" y="201.0" width="1" height="2" fill="#e8a040"/><rect x="516" y="201.0" width="1" height="2.5" fill="#4a6ae8"/><rect x="519" y="201.0" width="1" height="2" fill="#4a6ae8"/><rect x="521.5" y="201.0" width="1" height="2.5" fill="#8a6ae8"/><rect x="530" y="201.0" width="1" height="2.5" fill="#4a6ae8"/><rect x="533" y="201.0" width="1" height="3.5" fill="#4a6ae8"/><rect x="540" y="201.0" width="1" height="2.5" fill="#4a6ae8"/><rect x="543" y="201.0" width="1" height="4" fill="#3a4ae8"/><rect x="856" y="201.0" width="1" height="1.5" fill="#4a6ae8"/><rect x="859" y="201.0" width="1" height="1.5" fill="#e8a040"/><rect x="862" y="201.0" width="1" height="1.5" fill="#4a6ae8"/><rect x="871" y="201.0" width="1" height="1.5" fill="#8a6ae8"/><rect x="888" y="201.0" width="1" height="1.5" fill="#4a4a4a"/><rect x="901" y="201.0" width="1" height="2" fill="#e05050"/><rect x="915" y="201.0" width="1" height="1.5" fill="#4a8a4a"/><path d="M332.3 195.1 L341.7 195.1 L337 199.8 Z" fill="#8080b4"/></svg><div class="a" style="left:193px;top:333px;width:691px;height:200px;background:#fff;box-shadow:0 0 6px 1px rgba(0,0,0,0.85);border-radius:4px 4px 0 0;"></div><div class="a" style="left:194px;top:332.6px;width:688.8px;height:22.2px;border-radius:4px 4px 3px 3px;background:linear-gradient(to right,#16456f 0%,#1f5886 25%,#2f6e9e 55%,#22608f 75%,#0e4a7a 100%);"></div><div class="t" id="pt" style="left:197.6px;top:339.8px;font-size:12px;color:#fff;letter-spacing:0.31px;">Edit gene model: LOC113763395 (1) *</div><div class="a" style="left:827.2px;top:336.1px;width:15.8px;height:16.6px;border-radius:3px;background:rgba(255,255,255,0.2);"></div><div class="a" style="left:845.2px;top:336.1px;width:16.8px;height:16.6px;border-radius:3px;background:rgba(255,255,255,0.2);"></div><div class="a" style="left:864px;top:336.1px;width:17px;height:16.6px;border-radius:3px;background:rgba(255,255,255,0.2);"></div><svg width="973" height="525"><path d="M831.5 339.8 L839.4 347.6 M839.4 339.8 L831.5 347.6" stroke="#a6cce8" stroke-width="1.9" fill="none"/><g fill="#a6cce8"><path d="M830 338.3 h4.6 l-4.6 4.6z M840.9 338.3 h-4.6 l4.6 4.6z M830 349.1 h4.6 l-4.6 -4.6z M840.9 349.1 h-4.6 l4.6 -4.6z"/><path d="M849.8 341.9 h8.3 l-4.15 4.2z"/></g><path d="M870.3 341.3 L875.9 346.9 M875.9 341.3 L870.3 346.9" stroke="#a6cce8" stroke-width="2.7" stroke-linecap="round"/></svg><div class="btn" style="left:196px;"></div><svg width="973" height="525"><path d="M202.5 364 L208 368 L202.5 372 Z" fill="#2e8ad8"/></svg><div class="t" id="nm" style="left:227.7px;top:362.5px;font-size:12px;color:#333;letter-spacing:0.25px;">Name:</div><div class="a" style="left:267px;top:359px;width:193px;height:16px;border:1px solid #a8a8a8;border-radius:2px;background:#f4f4f4;"></div><div class="t" id="inp" style="left:270.7px;top:362.5px;font-size:12.5px;color:#222;letter-spacing:0.23px;">LOC113763395 (1)</div><div class="a" style="left:466px;top:359px;width:1px;height:18px;background:#aaa;"></div><div class="t" id="bd" style="left:471px;top:362.4px;font-size:12.4px;color:#2c88d6;text-decoration:underline;letter-spacing:-0.15px;">Base details...</div><div class="t" id="cl" style="left:626px;top:362.5px;font-size:12.5px;color:#333;letter-spacing:0.2px;">Color:</div><div class="a" style="left:663px;top:360.3px;width:13px;height:14.5px;border:1px solid #7cb8ec;background:#62b4f8;border-radius:2px;"></div><div class="a" style="left:682px;top:359px;width:1px;height:18px;background:#999;"></div><div class="a" style="left:856px;top:359px;width:1px;height:18px;background:#999;"></div><div class="btn" style="left:688px;"></div><div class="btn" style="left:709.5px;"></div><div class="btn" style="left:730.5px;"></div><div class="btn" style="left:770.2px;"></div><div class="btn" style="left:791px;"></div><div class="btn" style="left:812.1px;"></div><div class="btn" style="left:833.2px;"></div><div class="btn" style="left:862.2px;"></div><svg width="973" height="525"><path d="M694.01 364.36 A4.7 4.7 0 1 1 693.60 370.13" fill="none" stroke="#2e8ad8" stroke-width="1.7"/><path d="M691.9 362.2 L691.9 367.2 L696.9 367.2 Z" fill="#2e8ad8"/><path d="M711.4 366.5 L716 362 L716 364.6 C721.5 364.6 725 367.5 724 373.8 C723 370.5 721 368.7 716 368.6 L716 371 Z" fill="#2e8ad8"/><path d="M745.7 365.3 L741.1 360.8 L741.1 363.4 C735.6 363.4 732.1 366.3 733.1 372.6 C734.1 369.3 736.1 367.5 741.1 367.4 L741.1 369.8 Z" fill="#2e8ad8"/><path d="M774.1 365.8 L777.3 363 L777.3 365.1 L785 365.1 L785 366.5 L777.3 366.5 L777.3 368.6 Z" fill="#2e8ad8"/><rect x="772.7" y="370.1" width="13.1" height="3.7" rx="1.8" fill="#2e8ad8"/><path d="M805.9 365.8 L802.7 363 L802.7 365.1 L795 365.1 L795 366.5 L802.7 366.5 L802.7 368.6 Z" fill="#2e8ad8"/><rect x="793.3" y="370.1" width="13.3" height="3.7" rx="1.8" fill="#2e8ad8"/><path d="M815.1 370.3 Q820.6 364.7 826.1 370.3 Q820.6 375.90000000000003 815.1 370.3Z" fill="none" stroke="#2e8ad8" stroke-width="1.1"/><circle cx="820.6" cy="370.3" r="2" fill="#2e8ad8"/><circle cx="819.9" cy="369.5" r="0.6" fill="#cfe4f6"/><path d="M824.7 367.4 L824.7 362 M821.7 364.7 L824.7 361.6 L827.7 364.7" fill="none" stroke="#2e8ad8" stroke-width="1.4"/><path d="M835.4 370.5 Q840.9 364.9 846.4 370.5 Q840.9 376.1 835.4 370.5Z" fill="none" stroke="#2e8ad8" stroke-width="1.1"/><circle cx="840.9" cy="370.5" r="2" fill="#2e8ad8"/><circle cx="840.1999999999999" cy="369.7" r="0.6" fill="#cfe4f6"/><path d="M845.8 360.6 L845.8 366 M842.8 363.4 L845.8 366.5 L848.8 363.4" fill="none" stroke="#2e8ad8" stroke-width="1.4"/><path d="M865.1 364.7 L874.6 364.7 L874.6 363.1 L878 365.4 L874.6 367.7 L874.6 366.1 L865.1 366.1Z" fill="#2e8ad8"/><path d="M877.8 369.5 L868.3 369.5 L868.3 367.9 L864.9 370.2 L868.3 372.5 L868.3 370.9 L877.8 370.9Z" fill="#2e8ad8"/></svg><div class="a" style="left:196px;top:379.1px;width:686px;height:5.2px;background:linear-gradient(to bottom,#d0d0d0,#c6c6c6 20%,#c6c6c6 80%,#a8a8a8 86%,#a8a8a8);"></div><div class="a" style="left:197px;top:384px;width:683px;height:61px;background:#fff;"></div><div class="a" style="left:197px;top:385.2px;width:683px;height:8px;background:linear-gradient(to right,#cee6ce 0.0px,#cee6ce 5.0px,#d7ebd7 7.0px,#ebf5eb 11.0px,#ffffff 15.0px,#ffffff 22.0px,#fbbebe 24.0px,#f99e9e 36.0px,#f77e7e 41.0px,#f99393 47.0px,#fcc9c9 49.0px,#fcd4d4 59.0px,#ffffff 60.0px,#9dcd9d 61.0px,#9dcd9d 73.0px,#badcba 79.0px,#ffffff 81.0px,#ffffff 85.0px,#fab3b3 87.0px,#f88888 95.0px,#f77e7e 103.0px,#f65d5d 113.0px,#f33232 124.0px,#f55353 131.0px,#faa9a9 137.0px,#fde9e9 141.0px,#9dcd9d 142.0px,#a6d2a6 153.0px,#7fbe7f 164.0px,#9dcd9d 173.0px,#93c893 188.0px,#b0d7b0 201.0px,#ffffff 203.0px,#fbbebe 204.0px,#fab3b3 218.0px,#fbbebe 227.0px,#fcc9c9 230.0px,#fef4f4 236.0px,#fef4f4 258.0px,#fcc9c9 263.0px,#fab3b3 277.0px,#fcc9c9 287.0px,#ffffff 289.0px,#ffffff 293.0px,#fcc9c9 294.0px,#fbbebe 308.0px,#fcd4d4 317.0px,#ffffff 319.0px,#f5faf5 324.0px,#ebf5eb 338.0px,#e1f0e1 343.0px,#f9fcf9 348.0px,#f9fcf9 373.0px,#ebf5eb 377.0px,#fbbebe 379.0px,#faa9a9 393.0px,#fcc9c9 403.0px,#228e22 404.0px,#3b9b3b 411.0px,#9dcd9d 424.0px,#c4e1c4 438.0px,#cee6ce 452.0px,#f5faf5 454.0px,#ffffff 475.0px,#fbbebe 477.0px,#faa9a9 489.0px,#fcc9c9 501.0px,#ffffff 503.0px,#ffffff 505.0px,#fbbebe 506.0px,#f99393 520.0px,#f99e9e 530.0px,#f99393 543.0px,#fcd4d4 553.0px,#ffffff 556.0px,#c4e1c4 557.6px,#fbbebe 559.0px,#f99e9e 568.0px,#f55353 578.0px,#f43d3d 584.0px,#f77e7e 593.0px,#fab3b3 606.0px,#c4e1c4 608.0px,#ffffff 609.0px,#ffffff 619.0px,#fcc9c9 620.0px,#f99e9e 631.0px,#fbbebe 637.0px,#ffffff 640.0px,#cee6ce 642.0px,#d7ebd7 646.0px,#fcc9c9 648.0px,#fab3b3 655.0px,#fab3b3 661.0px,#ffffff 663.0px,#ffffff 683.0px);"></div><div class="a" style="left:197px;top:405.2px;width:683px;height:8px;background:linear-gradient(to right,#fbbebe 0.0px,#f99393 10.0px,#f65d5d 18.0px,#f88888 25.0px,#faa9a9 31.0px,#fcd4d4 41.0px,#ffffff 43.0px,#ffffff 45.0px,#cee6ce 46.0px,#cee6ce 52.0px,#ffffff 53.0px,#fbbebe 54.0px,#fbbebe 65.0px,#89c389 66.0px,#89c389 68.0px,#fbbebe 69.0px,#fcd4d4 78.0px,#ffffff 85.0px,#ffffff 90.0px,#fab3b3 92.0px,#f99393 103.0px,#f77e7e 111.0px,#fbbebe 118.0px,#fef4f4 125.0px,#ffffff 132.0px,#9dcd9d 133.0px,#93c893 141.0px,#ffffff 142.0px,#fddede 144.0px,#fcd4d4 156.0px,#fddede 166.0px,#ffffff 168.0px,#ffffff 175.0px,#d7ebd7 179.0px,#badcba 193.0px,#d7ebd7 203.0px,#ffffff 206.0px,#fef4f4 222.0px,#fef4f4 224.0px,#fde5e5 248.0px,#fde9e9 270.0px,#ffffff 273.0px,#fbbebe 274.0px,#faa9a9 288.0px,#f99e9e 301.0px,#f66868 313.0px,#f99e9e 322.0px,#ffffff 324.0px,#badcba 326.0px,#ebf5eb 333.0px,#ffffff 337.0px,#e1f0e1 341.0px,#c4e1c4 363.0px,#a6d2a6 383.0px,#93c893 397.0px,#ffffff 399.0px,#fde5e5 401.0px,#fcd4d4 413.0px,#fde9e9 419.0px,#c4e1c4 420.0px,#fde9e9 421.0px,#ffffff 423.0px,#9dcd9d 424.0px,#9dcd9d 429.0px,#ffffff 430.0px,#fcd4d4 431.0px,#fcc9c9 444.0px,#fde9e9 452.0px,#fef4f4 454.0px,#fddede 473.0px,#fbbebe 485.0px,#fcc9c9 489.0px,#ffffff 491.0px,#ffffff 497.0px,#c4e1c4 501.0px,#93c893 508.0px,#9dcd9d 523.0px,#9dcd9d 535.0px,#ffffff 536.0px,#fab3b3 538.0px,#f99393 552.0px,#fcc9c9 565.0px,#ffffff 567.0px,#fbbebe 568.0px,#f99393 576.0px,#f77e7e 582.0px,#fbbebe 593.0px,#fde9e9 606.0px,#ffffff 609.0px,#ffffff 618.0px,#fbbebe 620.0px,#f88888 635.0px,#f99393 646.0px,#fcc9c9 648.0px,#fcd4d4 661.0px,#ffffff 663.0px,#ffffff 683.0px);"></div><div class="a" style="left:197px;top:425.3px;width:683px;height:8px;background:linear-gradient(to right,#f99393 0.0px,#f77e7e 3.0px,#fab3b3 8.0px,#fde5e5 15.0px,#fef4f4 25.0px,#fcd4d4 29.0px,#fcc9c9 41.0px,#f99393 45.0px,#fab3b3 53.0px,#f99393 62.0px,#fcc9c9 68.0px,#fde9e9 71.0px,#fcc9c9 73.0px,#faa9a9 88.0px,#fbbebe 99.0px,#f99393 101.0px,#f66868 115.0px,#f88888 120.0px,#fbbebe 129.0px,#ffffff 130.0px,#89c389 131.0px,#9dcd9d 143.0px,#cee6ce 149.0px,#f5faf5 155.0px,#ffffff 163.0px,#f5faf5 169.0px,#c4e1c4 175.0px,#93c893 188.0px,#a6d2a6 198.0px,#d7ebd7 203.0px,#ffffff 205.0px,#fcc9c9 206.0px,#faa9a9 218.0px,#f66868 220.0px,#f88888 222.0px,#f88888 224.0px,#f99393 232.0px,#fcc9c9 234.0px,#fcd4d4 242.0px,#feeded 244.0px,#feeded 268.0px,#ffffff 272.0px,#89c389 273.0px,#93c893 283.0px,#a6d2a6 295.0px,#ffffff 296.0px,#fcd4d4 297.0px,#fcc9c9 310.0px,#fcd4d4 314.0px,#fddede 316.0px,#fde9e9 321.0px,#ffffff 323.0px,#ffffff 339.0px,#e1f0e1 341.0px,#c4e1c4 363.0px,#9dcd9d 378.0px,#228e22 388.0px,#0a820a 408.0px,#228e22 418.0px,#75b975 428.0px,#b0d7b0 440.0px,#ffffff 443.0px,#ffffff 453.0px,#fef4f4 458.0px,#ffffff 468.0px,#ffffff 475.0px,#e1f0e1 489.0px,#c4e1c4 498.0px,#ffffff 500.0px,#d7ebd7 504.0px,#badcba 506.0px,#93c893 518.0px,#7fbe7f 527.0px,#fcd4d4 528.0px,#fbbebe 538.0px,#fcd4d4 551.0px,#ffffff 555.0px,#ffffff 563.0px,#eff7ef 568.0px,#f5faf5 578.0px,#ffffff 581.0px,#fcd4d4 583.0px,#faa9a9 593.0px,#fbbebe 601.0px,#ffffff 603.0px,#fddede 604.0px,#fde9e9 610.0px,#93c893 611.0px,#89c389 623.0px,#75b975 635.0px,#9dcd9d 648.0px,#9dcd9d 662.0px,#ffffff 664.0px,#e7f3e7 665.0px,#ebf5eb 671.0px,#ffffff 673.0px,#ffffff 683.0px);"></div><svg width="973" height="525"><rect x="202.3" y="385.2" width="1.3" height="19.8" fill="#62c062"/><rect x="233.5" y="385.2" width="1.3" height="19.8" fill="#c66a6a"/><rect x="246.0" y="385.2" width="1" height="19.8" fill="#c66a6a"/><rect x="296.2" y="385.2" width="1.3" height="19.8" fill="#c66a6a"/><rect x="303.4" y="385.2" width="1.3" height="19.8" fill="#c66a6a"/><rect x="320.2" y="385.2" width="3" height="19.8" fill="#c66a6a"/><rect x="327.4" y="385.2" width="1.3" height="19.8" fill="#c66a6a"/><rect x="360.2" y="385.2" width="1.5" height="19.8" fill="#62c062"/><rect x="414.4" y="385.2" width="1.2" height="19.8" fill="#c66a6a"/><rect x="473.2" y="385.2" width="1.5" height="19.8" fill="#c66a6a"/><rect x="504.2" y="385.2" width="1.5" height="19.8" fill="#c66a6a"/><rect x="589.2" y="385.2" width="1.5" height="19.8" fill="#c66a6a"/><rect x="688.4" y="385.2" width="1.3" height="19.8" fill="#c66a6a"/><rect x="716.4" y="385.2" width="1.3" height="19.8" fill="#c66a6a"/><rect x="726.4" y="385.2" width="1.3" height="19.8" fill="#c66a6a"/><rect x="742.4" y="385.2" width="1.3" height="19.8" fill="#c66a6a"/><rect x="763.1" y="385.2" width="1.2" height="19.8" fill="#62c062"/><rect x="769.9" y="385.2" width="1.3" height="19.8" fill="#c66a6a"/><rect x="780.4" y="385.2" width="1.3" height="19.8" fill="#c66a6a"/><rect x="792.4" y="385.2" width="1.3" height="19.8" fill="#c66a6a"/><rect x="820.1" y="385.2" width="1.3" height="19.8" fill="#c66a6a"/><rect x="827.4" y="385.2" width="1.3" height="19.8" fill="#c66a6a"/><rect x="858.4" y="385.2" width="1.3" height="19.8" fill="#c66a6a"/><rect x="207.0" y="405.2" width="1.3" height="19.8" fill="#c66a6a"/><rect x="221.2" y="405.2" width="1" height="19.8" fill="#c66a6a"/><rect x="227.8" y="405.2" width="1" height="19.8" fill="#c66a6a"/><rect x="261.8" y="405.2" width="2.4" height="19.8" fill="#62c062"/><rect x="301.0" y="405.2" width="1.2" height="19.8" fill="#c66a6a"/><rect x="307.3" y="405.2" width="1.4" height="19.8" fill="#c66a6a"/><rect x="353.1" y="405.2" width="1" height="19.8" fill="#c66a6a"/><rect x="484.3" y="405.2" width="1.4" height="19.8" fill="#c66a6a"/><rect x="509.2" y="405.2" width="2.6" height="19.8" fill="#c66a6a"/><rect x="609.4" y="405.2" width="1.3" height="19.8" fill="#c66a6a"/><rect x="616.3" y="405.2" width="1.4" height="19.8" fill="#62c062"/><rect x="641.0" y="405.2" width="1" height="19.8" fill="#c66a6a"/><rect x="682.4" y="405.2" width="1.3" height="19.8" fill="#c66a6a"/><rect x="685.9" y="405.2" width="1.5" height="19.8" fill="#62c062"/><rect x="732.4" y="405.2" width="1.2" height="19.8" fill="#62c062"/><rect x="748.4" y="405.2" width="1.3" height="19.8" fill="#c66a6a"/><rect x="772.4" y="405.2" width="1.2" height="19.8" fill="#c66a6a"/><rect x="778.4" y="405.2" width="1.3" height="19.8" fill="#c66a6a"/><rect x="831.9" y="405.2" width="1.2" height="19.8" fill="#c66a6a"/><rect x="843.8" y="405.2" width="1.2" height="19.8" fill="#62c062"/><rect x="847.4" y="405.2" width="1.2" height="19.8" fill="#c66a6a"/><rect x="861.2" y="405.2" width="1.5" height="19.8" fill="#62c062"/><rect x="199.3" y="425.3" width="1.3" height="19.8" fill="#c66a6a"/><rect x="241.3" y="425.3" width="1.3" height="19.8" fill="#c66a6a"/><rect x="258.4" y="425.3" width="1.3" height="19.8" fill="#c66a6a"/><rect x="284.4" y="425.3" width="1.3" height="19.8" fill="#c66a6a"/><rect x="312.4" y="425.3" width="1.2" height="19.8" fill="#c66a6a"/><rect x="315.6" y="425.3" width="1.2" height="19.8" fill="#c66a6a"/><rect x="416.0" y="425.3" width="1.4" height="19.8" fill="#c66a6a"/><rect x="428.3" y="425.3" width="1.4" height="19.8" fill="#c66a6a"/><rect x="506.3" y="425.3" width="1.4" height="19.8" fill="#c66a6a"/><rect x="636.9" y="425.3" width="1.2" height="19.8" fill="#62c062"/><rect x="666.1" y="425.3" width="1.3" height="19.8" fill="#62c062"/><rect x="739.1" y="425.3" width="1.3" height="19.8" fill="#c66a6a"/><rect x="796.1" y="425.3" width="1.3" height="19.8" fill="#c66a6a"/><rect x="831.2" y="425.3" width="1.6" height="19.8" fill="#62c062"/><rect x="754" y="385.2" width="1.2" height="8" fill="#7ac87a"/><rect x="804.5" y="385.2" width="1.2" height="8" fill="#7ac87a"/><rect x="875.5" y="425.3" width="1" height="8" fill="#f0b0b0"/><rect x="511.7" y="426" width="128" height="18" fill="none" stroke="#3e3e3e" stroke-width="1.6"/><rect x="800" y="426" width="61.3" height="18" fill="none" stroke="#3e3e3e" stroke-width="1.6"/><g shape-rendering="crispEdges"><rect x="197.00" y="445" width="1.21" height="20" fill="#b8b8fc"/><rect x="198.16" y="445" width="1.79" height="20" fill="#ffb8b8"/><rect x="199.91" y="445" width="0.63" height="20" fill="#9ad89a"/><rect x="200.49" y="445" width="1.21" height="20" fill="#ffb8b8"/><rect x="201.65" y="445" width="0.63" height="20" fill="#9ad89a"/><rect x="202.23" y="445" width="0.63" height="20" fill="#ffb8b8"/><rect x="202.81" y="445" width="0.63" height="20" fill="#9ad89a"/><rect x="203.39" y="445" width="0.63" height="20" fill="#ffb8b8"/><rect x="203.97" y="445" width="1.21" height="20" fill="#9ad89a"/><rect x="205.13" y="445" width="0.63" height="20" fill="#ffb8b8"/><rect x="205.71" y="445" width="0.63" height="20" fill="#ffde9c"/><rect x="206.30" y="445" width="2.37" height="20" fill="#9ad89a"/><rect x="208.62" y="445" width="0.63" height="20" fill="#ffb8b8"/><rect x="209.20" y="445" width="0.63" height="20" fill="#b8b8fc"/><rect x="209.78" y="445" width="0.63" height="20" fill="#9ad89a"/><rect x="210.36" y="445" width="0.63" height="20" fill="#ffb8b8"/><rect x="210.94" y="445" width="1.21" height="20" fill="#9ad89a"/><rect x="212.11" y="445" width="0.63" height="20" fill="#ffb8b8"/><rect x="212.69" y="445" width="0.63" height="20" fill="#b8b8fc"/><rect x="213.27" y="445" width="0.63" height="20" fill="#9ad89a"/><rect x="213.85" y="445" width="1.21" height="20" fill="#b8b8fc"/><rect x="215.01" y="445" width="0.63" height="20" fill="#ffb8b8"/><rect x="215.59" y="445" width="0.63" height="20" fill="#ffde9c"/><rect x="216.17" y="445" width="0.63" height="20" fill="#9ad89a"/><rect x="216.75" y="445" width="0.63" height="20" fill="#ffb8b8"/><rect x="217.33" y="445" width="0.63" height="20" fill="#b8b8fc"/><rect x="217.92" y="445" width="0.63" height="20" fill="#ffb8b8"/><rect x="218.50" y="445" width="0.63" height="20" fill="#9ad89a"/><rect x="219.08" y="445" width="0.63" height="20" fill="#ffb8b8"/><rect x="219.66" y="445" width="0.63" height="20" fill="#b8b8fc"/><rect x="220.24" y="445" width="0.63" height="20" fill="#9ad89a"/><rect x="220.82" y="445" width="1.21" height="20" fill="#b8b8fc"/><rect x="221.98" y="445" width="0.63" height="20" fill="#ffde9c"/><rect x="222.56" y="445" width="1.21" height="20" fill="#9ad89a"/><rect x="223.73" y="445" width="1.21" height="20" fill="#ffde9c"/><rect x="224.89" y="445" width="0.63" height="20" fill="#ffb8b8"/><rect x="225.47" y="445" width="0.63" height="20" fill="#9ad89a"/><rect x="226.05" y="445" width="0.63" height="20" fill="#b8b8fc"/><rect x="226.63" y="445" width="0.63" height="20" fill="#9ad89a"/><rect x="227.21" y="445" width="0.63" height="20" fill="#ffde9c"/><rect x="227.79" y="445" width="0.63" height="20" fill="#b8b8fc"/><rect x="228.37" y="445" width="0.63" height="20" fill="#ffb8b8"/><rect x="228.95" y="445" width="0.63" height="20" fill="#ffde9c"/><rect x="229.54" y="445" width="1.79" height="20" fill="#9ad89a"/><rect x="231.28" y="445" width="0.63" height="20" fill="#ffb8b8"/><rect x="231.86" y="445" width="0.63" height="20" fill="#9ad89a"/><rect x="232.44" y="445" width="0.63" height="20" fill="#ffde9c"/><rect x="233.02" y="445" width="0.63" height="20" fill="#b8b8fc"/><rect x="233.60" y="445" width="0.63" height="20" fill="#9ad89a"/><rect x="234.18" y="445" width="1.79" height="20" fill="#ffb8b8"/><rect x="235.93" y="445" width="0.63" height="20" fill="#b8b8fc"/><rect x="236.51" y="445" width="0.63" height="20" fill="#ffb8b8"/><rect x="237.09" y="445" width="0.63" height="20" fill="#b8b8fc"/><rect x="237.67" y="445" width="0.63" height="20" fill="#ffb8b8"/><rect x="238.25" y="445" width="1.21" height="20" fill="#ffde9c"/><rect x="239.41" y="445" width="0.63" height="20" fill="#9ad89a"/><rect x="239.99" y="445" width="1.79" height="20" fill="#ffb8b8"/><rect x="241.74" y="445" width="0.63" height="20" fill="#b8b8fc"/><rect x="242.32" y="445" width="1.21" height="20" fill="#9ad89a"/><rect x="243.48" y="445" width="1.79" height="20" fill="#ffde9c"/><rect x="245.22" y="445" width="1.21" height="20" fill="#b8b8fc"/><rect x="246.38" y="445" width="0.63" height="20" fill="#ffde9c"/><rect x="246.97" y="445" width="0.63" height="20" fill="#9ad89a"/><rect x="247.55" y="445" width="0.63" height="20" fill="#ffde9c"/><rect x="248.13" y="445" width="0.63" height="20" fill="#ffb8b8"/><rect x="248.71" y="445" width="0.63" height="20" fill="#ffde9c"/><rect x="249.29" y="445" width="0.63" height="20" fill="#b8b8fc"/><rect x="249.87" y="445" width="0.63" height="20" fill="#ffb8b8"/><rect x="250.45" y="445" width="1.21" height="20" fill="#b8b8fc"/><rect x="251.61" y="445" width="0.63" height="20" fill="#ffde9c"/><rect x="252.19" y="445" width="1.21" height="20" fill="#ffb8b8"/><rect x="253.36" y="445" width="0.63" height="20" fill="#9ad89a"/><rect x="253.94" y="445" width="1.21" height="20" fill="#b8b8fc"/><rect x="255.10" y="445" width="0.63" height="20" fill="#ffde9c"/><rect x="255.68" y="445" width="0.63" height="20" fill="#ffb8b8"/><rect x="256.26" y="445" width="0.63" height="20" fill="#ffde9c"/><rect x="256.84" y="445" width="1.21" height="20" fill="#9ad89a"/><rect x="258.00" y="445" width="0.63" height="20" fill="#ffde9c"/><rect x="258.59" y="445" width="1.21" height="20" fill="#ffb8b8"/><rect x="259.75" y="445" width="1.21" height="20" fill="#ffde9c"/><rect x="260.91" y="445" width="0.63" height="20" fill="#b8b8fc"/><rect x="261.49" y="445" width="0.63" height="20" fill="#9ad89a"/><rect x="262.07" y="445" width="0.63" height="20" fill="#b8b8fc"/><rect x="262.65" y="445" width="0.63" height="20" fill="#ffde9c"/><rect x="263.23" y="445" width="0.63" height="20" fill="#ffb8b8"/><rect x="263.81" y="445" width="1.79" height="20" fill="#9ad89a"/><rect x="265.56" y="445" width="0.63" height="20" fill="#ffb8b8"/><rect x="266.14" y="445" width="0.63" height="20" fill="#b8b8fc"/><rect x="266.72" y="445" width="1.21" height="20" fill="#ffde9c"/><rect x="267.88" y="445" width="0.63" height="20" fill="#b8b8fc"/><rect x="268.46" y="445" width="1.21" height="20" fill="#ffb8b8"/><rect x="269.62" y="445" width="0.63" height="20" fill="#9ad89a"/><rect x="270.21" y="445" width="0.63" height="20" fill="#ffde9c"/><rect x="270.79" y="445" width="0.63" height="20" fill="#b8b8fc"/><rect x="271.37" y="445" width="1.21" height="20" fill="#ffb8b8"/><rect x="272.53" y="445" width="0.63" height="20" fill="#ffde9c"/><rect x="273.11" y="445" width="0.63" height="20" fill="#ffb8b8"/><rect x="273.69" y="445" width="0.63" height="20" fill="#ffde9c"/><rect x="274.27" y="445" width="0.63" height="20" fill="#9ad89a"/><rect x="274.85" y="445" width="0.63" height="20" fill="#ffb8b8"/><rect x="275.43" y="445" width="0.63" height="20" fill="#ffde9c"/><rect x="276.02" y="445" width="0.63" height="20" fill="#b8b8fc"/><rect x="276.60" y="445" width="0.63" height="20" fill="#ffb8b8"/><rect x="277.18" y="445" width="0.63" height="20" fill="#9ad89a"/><rect x="277.76" y="445" width="1.79" height="20" fill="#ffde9c"/><rect x="279.50" y="445" width="1.21" height="20" fill="#9ad89a"/><rect x="280.66" y="445" width="0.63" height="20" fill="#ffb8b8"/><rect x="281.24" y="445" width="0.63" height="20" fill="#9ad89a"/><rect x="281.83" y="445" width="0.63" height="20" fill="#ffb8b8"/><rect x="282.41" y="445" width="1.21" height="20" fill="#ffde9c"/><rect x="283.57" y="445" width="0.63" height="20" fill="#9ad89a"/><rect x="284.15" y="445" width="0.63" height="20" fill="#ffde9c"/><rect x="284.73" y="445" width="0.63" height="20" fill="#ffb8b8"/><rect x="285.31" y="445" width="1.21" height="20" fill="#ffde9c"/><rect x="286.47" y="445" width="0.63" height="20" fill="#b8b8fc"/><rect x="287.05" y="445" width="1.21" height="20" fill="#ffb8b8"/><rect x="288.22" y="445" width="0.63" height="20" fill="#ffde9c"/><rect x="288.80" y="445" width="0.63" height="20" fill="#9ad89a"/><rect x="289.38" y="445" width="0.63" height="20" fill="#ffde9c"/><rect x="289.96" y="445" width="0.63" height="20" fill="#9ad89a"/><rect x="290.54" y="445" width="0.63" height="20" fill="#ffde9c"/><rect x="291.12" y="445" width="0.63" height="20" fill="#ffb8b8"/><rect x="291.70" y="445" width="0.63" height="20" fill="#ffde9c"/><rect x="292.28" y="445" width="0.63" height="20" fill="#9ad89a"/><rect x="292.86" y="445" width="0.63" height="20" fill="#b8b8fc"/><rect x="293.45" y="445" width="0.63" height="20" fill="#ffb8b8"/><rect x="294.03" y="445" width="0.63" height="20" fill="#ffde9c"/><rect x="294.61" y="445" width="0.63" height="20" fill="#b8b8fc"/><rect x="295.19" y="445" width="0.63" height="20" fill="#ffb8b8"/><rect x="295.77" y="445" width="0.63" height="20" fill="#b8b8fc"/><rect x="296.35" y="445" width="0.63" height="20" fill="#ffde9c"/><rect x="296.93" y="445" width="1.21" height="20" fill="#9ad89a"/><rect x="298.09" y="445" width="1.21" height="20" fill="#b8b8fc"/><rect x="299.26" y="445" width="0.63" height="20" fill="#ffde9c"/><rect x="299.84" y="445" width="0.63" height="20" fill="#ffb8b8"/><rect x="300.42" y="445" width="0.63" height="20" fill="#ffde9c"/><rect x="301.00" y="445" width="0.63" height="20" fill="#9ad89a"/><rect x="301.58" y="445" width="1.21" height="20" fill="#b8b8fc"/><rect x="302.74" y="445" width="0.63" height="20" fill="#9ad89a"/><rect x="303.32" y="445" width="1.79" height="20" fill="#ffde9c"/><rect x="305.07" y="445" width="0.63" height="20" fill="#b8b8fc"/><rect x="305.65" y="445" width="0.63" height="20" fill="#ffb8b8"/><rect x="306.23" y="445" width="0.63" height="20" fill="#b8b8fc"/><rect x="306.81" y="445" width="1.21" height="20" fill="#ffb8b8"/><rect x="307.97" y="445" width="0.63" height="20" fill="#9ad89a"/><rect x="308.55" y="445" width="0.63" height="20" fill="#ffb8b8"/><rect x="309.13" y="445" width="0.63" height="20" fill="#9ad89a"/><rect x="309.71" y="445" width="0.63" height="20" fill="#b8b8fc"/><rect x="310.30" y="445" width="0.63" height="20" fill="#9ad89a"/><rect x="310.88" y="445" width="1.79" height="20" fill="#ffde9c"/><rect x="312.62" y="445" width="0.63" height="20" fill="#ffb8b8"/><rect x="313.20" y="445" width="1.21" height="20" fill="#ffde9c"/><rect x="314.36" y="445" width="1.79" height="20" fill="#9ad89a"/><rect x="316.11" y="445" width="0.63" height="20" fill="#ffde9c"/><rect x="316.69" y="445" width="1.21" height="20" fill="#9ad89a"/><rect x="317.85" y="445" width="0.63" height="20" fill="#ffb8b8"/><rect x="318.43" y="445" width="0.63" height="20" fill="#9ad89a"/><rect x="319.01" y="445" width="1.21" height="20" fill="#ffb8b8"/><rect x="320.17" y="445" width="0.63" height="20" fill="#ffde9c"/><rect x="320.75" y="445" width="0.63" height="20" fill="#b8b8fc"/><rect x="321.33" y="445" width="0.63" height="20" fill="#9ad89a"/><rect x="321.92" y="445" width="0.63" height="20" fill="#ffb8b8"/><rect x="322.50" y="445" width="0.63" height="20" fill="#ffde9c"/><rect x="323.08" y="445" width="0.63" height="20" fill="#b8b8fc"/><rect x="323.66" y="445" width="1.21" height="20" fill="#9ad89a"/><rect x="324.82" y="445" width="1.21" height="20" fill="#ffb8b8"/><rect x="325.98" y="445" width="0.63" height="20" fill="#b8b8fc"/><rect x="326.56" y="445" width="0.63" height="20" fill="#ffde9c"/><rect x="327.14" y="445" width="1.79" height="20" fill="#ffb8b8"/><rect x="328.89" y="445" width="0.63" height="20" fill="#b8b8fc"/><rect x="329.47" y="445" width="1.21" height="20" fill="#ffb8b8"/><rect x="330.63" y="445" width="0.63" height="20" fill="#b8b8fc"/><rect x="331.21" y="445" width="0.63" height="20" fill="#9ad89a"/><rect x="331.79" y="445" width="1.79" height="20" fill="#ffde9c"/><rect x="333.54" y="445" width="0.63" height="20" fill="#b8b8fc"/><rect x="334.12" y="445" width="1.79" height="20" fill="#ffde9c"/><rect x="335.86" y="445" width="2.95" height="20" fill="#ffb8b8"/><rect x="338.76" y="445" width="0.63" height="20" fill="#b8b8fc"/><rect x="339.35" y="445" width="1.21" height="20" fill="#9ad89a"/><rect x="340.51" y="445" width="0.63" height="20" fill="#ffb8b8"/><rect x="341.09" y="445" width="1.79" height="20" fill="#ffde9c"/><rect x="342.83" y="445" width="0.63" height="20" fill="#9ad89a"/><rect x="343.41" y="445" width="1.21" height="20" fill="#ffb8b8"/><rect x="344.57" y="445" width="1.21" height="20" fill="#ffde9c"/><rect x="345.74" y="445" width="0.63" height="20" fill="#9ad89a"/><rect x="346.32" y="445" width="0.63" height="20" fill="#b8b8fc"/><rect x="346.90" y="445" width="0.63" height="20" fill="#ffde9c"/><rect x="347.48" y="445" width="0.63" height="20" fill="#b8b8fc"/><rect x="348.06" y="445" width="0.63" height="20" fill="#ffde9c"/><rect x="348.64" y="445" width="0.63" height="20" fill="#ffb8b8"/><rect x="349.22" y="445" width="1.21" height="20" fill="#9ad89a"/><rect x="350.38" y="445" width="1.21" height="20" fill="#ffb8b8"/><rect x="351.55" y="445" width="0.63" height="20" fill="#9ad89a"/><rect x="352.13" y="445" width="1.21" height="20" fill="#ffb8b8"/><rect x="353.29" y="445" width="0.63" height="20" fill="#ffde9c"/><rect x="353.87" y="445" width="0.63" height="20" fill="#b8b8fc"/><rect x="354.45" y="445" width="0.63" height="20" fill="#ffb8b8"/><rect x="355.03" y="445" width="0.63" height="20" fill="#ffde9c"/><rect x="355.61" y="445" width="0.63" height="20" fill="#ffb8b8"/><rect x="356.19" y="445" width="0.63" height="20" fill="#9ad89a"/><rect x="356.78" y="445" width="0.63" height="20" fill="#ffde9c"/><rect x="357.36" y="445" width="1.21" height="20" fill="#9ad89a"/><rect x="358.52" y="445" width="0.63" height="20" fill="#ffde9c"/><rect x="359.10" y="445" width="1.21" height="20" fill="#b8b8fc"/><rect x="360.26" y="445" width="0.63" height="20" fill="#ffde9c"/><rect x="360.84" y="445" width="0.63" height="20" fill="#ffb8b8"/><rect x="361.42" y="445" width="0.63" height="20" fill="#b8b8fc"/><rect x="362.00" y="445" width="0.63" height="20" fill="#ffb8b8"/><rect x="362.59" y="445" width="0.63" height="20" fill="#ffde9c"/><rect x="363.17" y="445" width="0.63" height="20" fill="#b8b8fc"/><rect x="363.75" y="445" width="1.21" height="20" fill="#ffde9c"/><rect x="364.91" y="445" width="0.63" height="20" fill="#9ad89a"/><rect x="365.49" y="445" width="1.79" height="20" fill="#ffb8b8"/><rect x="367.23" y="445" width="0.63" height="20" fill="#b8b8fc"/><rect x="367.81" y="445" width="1.21" height="20" fill="#ffde9c"/><rect x="368.98" y="445" width="0.63" height="20" fill="#9ad89a"/><rect x="369.56" y="445" width="0.63" height="20" fill="#ffde9c"/><rect x="370.14" y="445" width="0.63" height="20" fill="#b8b8fc"/><rect x="370.72" y="445" width="0.63" height="20" fill="#9ad89a"/><rect x="371.30" y="445" width="0.63" height="20" fill="#ffb8b8"/><rect x="371.88" y="445" width="0.63" height="20" fill="#9ad89a"/><rect x="372.46" y="445" width="1.21" height="20" fill="#ffb8b8"/><rect x="373.62" y="445" width="0.63" height="20" fill="#b8b8fc"/><rect x="374.21" y="445" width="0.63" height="20" fill="#ffb8b8"/><rect x="374.79" y="445" width="0.63" height="20" fill="#ffde9c"/><rect x="375.37" y="445" width="0.63" height="20" fill="#b8b8fc"/><rect x="375.95" y="445" width="0.63" height="20" fill="#ffb8b8"/><rect x="376.53" y="445" width="0.63" height="20" fill="#b8b8fc"/><rect x="377.11" y="445" width="1.21" height="20" fill="#9ad89a"/><rect x="378.27" y="445" width="1.21" height="20" fill="#ffde9c"/><rect x="379.43" y="445" width="0.63" height="20" fill="#ffb8b8"/><rect x="380.02" y="445" width="1.21" height="20" fill="#9ad89a"/><rect x="381.18" y="445" width="0.63" height="20" fill="#ffb8b8"/><rect x="381.76" y="445" width="1.79" height="20" fill="#b8b8fc"/><rect x="383.50" y="445" width="2.37" height="20" fill="#ffb8b8"/><rect x="385.83" y="445" width="0.63" height="20" fill="#b8b8fc"/><rect x="386.41" y="445" width="0.63" height="20" fill="#ffb8b8"/><rect x="386.99" y="445" width="1.79" height="20" fill="#b8b8fc"/><rect x="388.73" y="445" width="0.63" height="20" fill="#9ad89a"/><rect x="389.31" y="445" width="1.21" height="20" fill="#ffb8b8"/><rect x="390.47" y="445" width="0.63" height="20" fill="#9ad89a"/><rect x="391.05" y="445" width="0.63" height="20" fill="#ffb8b8"/><rect x="391.64" y="445" width="0.63" height="20" fill="#9ad89a"/><rect x="392.22" y="445" width="0.63" height="20" fill="#ffde9c"/><rect x="392.80" y="445" width="1.21" height="20" fill="#ffb8b8"/><rect x="393.96" y="445" width="0.63" height="20" fill="#ffde9c"/><rect x="394.54" y="445" width="0.63" height="20" fill="#9ad89a"/><rect x="395.12" y="445" width="0.63" height="20" fill="#ffb8b8"/><rect x="395.70" y="445" width="1.21" height="20" fill="#9ad89a"/><rect x="396.86" y="445" width="0.63" height="20" fill="#ffde9c"/><rect x="397.45" y="445" width="0.63" height="20" fill="#b8b8fc"/><rect x="398.03" y="445" width="0.63" height="20" fill="#ffde9c"/><rect x="398.61" y="445" width="0.63" height="20" fill="#b8b8fc"/><rect x="399.19" y="445" width="0.63" height="20" fill="#ffb8b8"/><rect x="399.77" y="445" width="0.63" height="20" fill="#ffde9c"/><rect x="400.35" y="445" width="3.54" height="20" fill="#ffb8b8"/><rect x="403.84" y="445" width="0.63" height="20" fill="#ffde9c"/><rect x="404.42" y="445" width="0.63" height="20" fill="#ffb8b8"/><rect x="405.00" y="445" width="0.63" height="20" fill="#b8b8fc"/><rect x="405.58" y="445" width="0.63" height="20" fill="#ffb8b8"/><rect x="406.16" y="445" width="0.63" height="20" fill="#b8b8fc"/><rect x="406.74" y="445" width="0.63" height="20" fill="#9ad89a"/><rect x="407.32" y="445" width="0.63" height="20" fill="#b8b8fc"/><rect x="407.90" y="445" width="1.21" height="20" fill="#9ad89a"/><rect x="409.07" y="445" width="0.63" height="20" fill="#ffb8b8"/><rect x="409.65" y="445" width="0.63" height="20" fill="#9ad89a"/><rect x="410.23" y="445" width="0.63" height="20" fill="#ffde9c"/><rect x="410.81" y="445" width="1.21" height="20" fill="#9ad89a"/><rect x="411.97" y="445" width="0.63" height="20" fill="#b8b8fc"/><rect x="412.55" y="445" width="0.63" height="20" fill="#ffde9c"/><rect x="413.13" y="445" width="1.21" height="20" fill="#9ad89a"/><rect x="414.29" y="445" width="0.63" height="20" fill="#b8b8fc"/><rect x="414.88" y="445" width="0.63" height="20" fill="#ffb8b8"/><rect x="415.46" y="445" width="0.63" height="20" fill="#b8b8fc"/><rect x="416.04" y="445" width="0.63" height="20" fill="#ffb8b8"/><rect x="416.62" y="445" width="1.21" height="20" fill="#ffde9c"/><rect x="417.78" y="445" width="0.63" height="20" fill="#9ad89a"/><rect x="418.36" y="445" width="0.63" height="20" fill="#ffb8b8"/><rect x="418.94" y="445" width="0.63" height="20" fill="#ffde9c"/><rect x="419.52" y="445" width="0.63" height="20" fill="#b8b8fc"/><rect x="420.10" y="445" width="0.63" height="20" fill="#ffde9c"/><rect x="420.69" y="445" width="0.63" height="20" fill="#9ad89a"/><rect x="421.27" y="445" width="0.63" height="20" fill="#b8b8fc"/><rect x="421.85" y="445" width="0.63" height="20" fill="#ffb8b8"/><rect x="422.43" y="445" width="0.63" height="20" fill="#9ad89a"/><rect x="423.01" y="445" width="0.63" height="20" fill="#b8b8fc"/><rect x="423.59" y="445" width="0.63" height="20" fill="#ffb8b8"/><rect x="424.17" y="445" width="0.63" height="20" fill="#ffde9c"/><rect x="424.75" y="445" width="0.63" height="20" fill="#b8b8fc"/><rect x="425.33" y="445" width="1.21" height="20" fill="#9ad89a"/><rect x="426.50" y="445" width="0.63" height="20" fill="#ffb8b8"/><rect x="427.08" y="445" width="0.63" height="20" fill="#9ad89a"/><rect x="427.66" y="445" width="0.63" height="20" fill="#ffb8b8"/><rect x="428.24" y="445" width="0.63" height="20" fill="#ffde9c"/><rect x="428.82" y="445" width="2.95" height="20" fill="#ffb8b8"/><rect x="431.72" y="445" width="0.63" height="20" fill="#ffde9c"/><rect x="432.31" y="445" width="0.63" height="20" fill="#9ad89a"/><rect x="432.89" y="445" width="0.63" height="20" fill="#b8b8fc"/><rect x="433.47" y="445" width="0.63" height="20" fill="#9ad89a"/><rect x="434.05" y="445" width="0.63" height="20" fill="#ffde9c"/><rect x="434.63" y="445" width="0.63" height="20" fill="#b8b8fc"/><rect x="435.21" y="445" width="0.63" height="20" fill="#9ad89a"/><rect x="435.79" y="445" width="0.63" height="20" fill="#ffde9c"/><rect x="436.37" y="445" width="0.63" height="20" fill="#ffb8b8"/><rect x="436.95" y="445" width="0.63" height="20" fill="#9ad89a"/><rect x="437.53" y="445" width="0.63" height="20" fill="#ffb8b8"/><rect x="438.12" y="445" width="0.63" height="20" fill="#ffde9c"/><rect x="438.70" y="445" width="0.63" height="20" fill="#9ad89a"/><rect x="439.28" y="445" width="0.63" height="20" fill="#ffb8b8"/><rect x="439.86" y="445" width="0.63" height="20" fill="#ffde9c"/><rect x="440.44" y="445" width="2.37" height="20" fill="#b8b8fc"/><rect x="442.76" y="445" width="2.37" height="20" fill="#ffb8b8"/><rect x="445.09" y="445" width="0.63" height="20" fill="#9ad89a"/><rect x="445.67" y="445" width="0.63" height="20" fill="#ffde9c"/><rect x="446.25" y="445" width="0.63" height="20" fill="#9ad89a"/><rect x="446.83" y="445" width="0.63" height="20" fill="#ffb8b8"/><rect x="447.41" y="445" width="1.21" height="20" fill="#9ad89a"/><rect x="448.57" y="445" width="0.63" height="20" fill="#b8b8fc"/><rect x="449.15" y="445" width="0.63" height="20" fill="#ffb8b8"/><rect x="449.74" y="445" width="0.63" height="20" fill="#ffde9c"/><rect x="450.32" y="445" width="0.63" height="20" fill="#ffb8b8"/><rect x="450.90" y="445" width="1.79" height="20" fill="#b8b8fc"/><rect x="452.64" y="445" width="0.63" height="20" fill="#ffde9c"/><rect x="453.22" y="445" width="0.63" height="20" fill="#ffb8b8"/><rect x="453.80" y="445" width="1.21" height="20" fill="#ffde9c"/><rect x="454.96" y="445" width="0.63" height="20" fill="#b8b8fc"/><rect x="455.55" y="445" width="0.63" height="20" fill="#9ad89a"/><rect x="456.13" y="445" width="0.63" height="20" fill="#ffde9c"/><rect x="456.71" y="445" width="0.63" height="20" fill="#ffb8b8"/><rect x="457.29" y="445" width="0.63" height="20" fill="#9ad89a"/><rect x="457.87" y="445" width="0.63" height="20" fill="#ffb8b8"/><rect x="458.45" y="445" width="0.63" height="20" fill="#b8b8fc"/><rect x="459.03" y="445" width="0.63" height="20" fill="#9ad89a"/><rect x="459.61" y="445" width="1.21" height="20" fill="#ffb8b8"/><rect x="460.77" y="445" width="0.63" height="20" fill="#9ad89a"/><rect x="461.36" y="445" width="0.63" height="20" fill="#ffde9c"/><rect x="461.94" y="445" width="0.63" height="20" fill="#9ad89a"/><rect x="462.52" y="445" width="0.63" height="20" fill="#ffde9c"/><rect x="463.10" y="445" width="1.21" height="20" fill="#b8b8fc"/><rect x="464.26" y="445" width="1.21" height="20" fill="#9ad89a"/><rect x="465.42" y="445" width="1.21" height="20" fill="#ffde9c"/><rect x="466.58" y="445" width="1.21" height="20" fill="#ffb8b8"/><rect x="467.75" y="445" width="0.63" height="20" fill="#9ad89a"/><rect x="468.33" y="445" width="1.21" height="20" fill="#b8b8fc"/><rect x="469.49" y="445" width="0.63" height="20" fill="#ffb8b8"/><rect x="470.07" y="445" width="0.63" height="20" fill="#ffde9c"/><rect x="470.65" y="445" width="0.63" height="20" fill="#9ad89a"/><rect x="471.23" y="445" width="0.63" height="20" fill="#ffb8b8"/><rect x="471.81" y="445" width="1.21" height="20" fill="#ffde9c"/><rect x="472.98" y="445" width="0.63" height="20" fill="#b8b8fc"/><rect x="473.56" y="445" width="1.21" height="20" fill="#ffb8b8"/><rect x="474.72" y="445" width="0.63" height="20" fill="#ffde9c"/><rect x="475.30" y="445" width="0.63" height="20" fill="#b8b8fc"/><rect x="475.88" y="445" width="0.63" height="20" fill="#9ad89a"/><rect x="476.46" y="445" width="1.21" height="20" fill="#b8b8fc"/><rect x="477.62" y="445" width="1.21" height="20" fill="#9ad89a"/><rect x="478.79" y="445" width="0.63" height="20" fill="#ffde9c"/><rect x="479.37" y="445" width="0.63" height="20" fill="#b8b8fc"/><rect x="479.95" y="445" width="0.63" height="20" fill="#ffde9c"/><rect x="480.53" y="445" width="1.79" height="20" fill="#ffb8b8"/><rect x="482.27" y="445" width="0.63" height="20" fill="#b8b8fc"/><rect x="482.85" y="445" width="0.63" height="20" fill="#ffb8b8"/><rect x="483.43" y="445" width="0.63" height="20" fill="#ffde9c"/><rect x="484.01" y="445" width="0.63" height="20" fill="#ffb8b8"/><rect x="484.60" y="445" width="0.63" height="20" fill="#9ad89a"/><rect x="485.18" y="445" width="0.63" height="20" fill="#ffb8b8"/><rect x="485.76" y="445" width="0.63" height="20" fill="#ffde9c"/><rect x="486.34" y="445" width="0.63" height="20" fill="#b8b8fc"/><rect x="486.92" y="445" width="0.63" height="20" fill="#9ad89a"/><rect x="487.50" y="445" width="1.21" height="20" fill="#b8b8fc"/><rect x="488.66" y="445" width="0.63" height="20" fill="#ffde9c"/><rect x="489.24" y="445" width="1.21" height="20" fill="#b8b8fc"/><rect x="490.41" y="445" width="0.63" height="20" fill="#9ad89a"/><rect x="490.99" y="445" width="3.54" height="20" fill="#ffb8b8"/><rect x="494.47" y="445" width="0.63" height="20" fill="#ffde9c"/><rect x="495.05" y="445" width="0.63" height="20" fill="#9ad89a"/><rect x="495.63" y="445" width="0.63" height="20" fill="#b8b8fc"/><rect x="496.22" y="445" width="0.63" height="20" fill="#9ad89a"/><rect x="496.80" y="445" width="0.63" height="20" fill="#ffb8b8"/><rect x="497.38" y="445" width="0.63" height="20" fill="#b8b8fc"/><rect x="497.96" y="445" width="1.21" height="20" fill="#9ad89a"/><rect x="499.12" y="445" width="0.63" height="20" fill="#b8b8fc"/><rect x="499.70" y="445" width="0.63" height="20" fill="#ffb8b8"/><rect x="500.28" y="445" width="0.63" height="20" fill="#ffde9c"/><rect x="500.86" y="445" width="0.63" height="20" fill="#b8b8fc"/><rect x="501.44" y="445" width="1.21" height="20" fill="#ffb8b8"/><rect x="502.61" y="445" width="0.63" height="20" fill="#ffde9c"/><rect x="503.19" y="445" width="0.63" height="20" fill="#ffb8b8"/><rect x="503.77" y="445" width="1.79" height="20" fill="#9ad89a"/><rect x="505.51" y="445" width="1.79" height="20" fill="#ffb8b8"/><rect x="507.25" y="445" width="0.63" height="20" fill="#ffde9c"/><rect x="507.84" y="445" width="1.21" height="20" fill="#b8b8fc"/><rect x="509.00" y="445" width="0.63" height="20" fill="#ffb8b8"/><rect x="509.58" y="445" width="0.63" height="20" fill="#9ad89a"/><rect x="510.16" y="445" width="0.63" height="20" fill="#ffde9c"/><rect x="510.74" y="445" width="0.63" height="20" fill="#b8b8fc"/><rect x="511.32" y="445" width="0.63" height="20" fill="#ffb8b8"/><rect x="511.90" y="445" width="0.63" height="20" fill="#b8b8fc"/><rect x="512.48" y="445" width="0.63" height="20" fill="#ffb8b8"/><rect x="513.06" y="445" width="0.63" height="20" fill="#b8b8fc"/><rect x="513.65" y="445" width="0.63" height="20" fill="#9ad89a"/><rect x="514.23" y="445" width="0.63" height="20" fill="#b8b8fc"/><rect x="514.81" y="445" width="1.21" height="20" fill="#ffde9c"/><rect x="515.97" y="445" width="0.63" height="20" fill="#b8b8fc"/><rect x="516.55" y="445" width="0.63" height="20" fill="#9ad89a"/><rect x="517.13" y="445" width="0.63" height="20" fill="#ffb8b8"/><rect x="517.71" y="445" width="0.63" height="20" fill="#b8b8fc"/><rect x="518.29" y="445" width="0.63" height="20" fill="#9ad89a"/><rect x="518.87" y="445" width="2.37" height="20" fill="#ffb8b8"/><rect x="521.20" y="445" width="0.63" height="20" fill="#9ad89a"/><rect x="521.78" y="445" width="1.79" height="20" fill="#ffde9c"/><rect x="523.52" y="445" width="0.63" height="20" fill="#ffb8b8"/><rect x="524.10" y="445" width="0.63" height="20" fill="#ffde9c"/><rect x="524.68" y="445" width="1.21" height="20" fill="#9ad89a"/><rect x="525.85" y="445" width="0.63" height="20" fill="#b8b8fc"/><rect x="526.43" y="445" width="1.21" height="20" fill="#ffb8b8"/><rect x="527.59" y="445" width="1.21" height="20" fill="#ffde9c"/><rect x="528.75" y="445" width="0.63" height="20" fill="#9ad89a"/><rect x="529.33" y="445" width="1.21" height="20" fill="#ffb8b8"/><rect x="530.49" y="445" width="1.21" height="20" fill="#9ad89a"/><rect x="531.66" y="445" width="1.21" height="20" fill="#b8b8fc"/><rect x="532.82" y="445" width="0.63" height="20" fill="#9ad89a"/><rect x="533.40" y="445" width="0.63" height="20" fill="#ffde9c"/><rect x="533.98" y="445" width="0.63" height="20" fill="#ffb8b8"/><rect x="534.56" y="445" width="1.21" height="20" fill="#9ad89a"/><rect x="535.72" y="445" width="0.63" height="20" fill="#ffde9c"/><rect x="536.30" y="445" width="0.63" height="20" fill="#b8b8fc"/><rect x="536.89" y="445" width="1.79" height="20" fill="#9ad89a"/><rect x="538.63" y="445" width="0.63" height="20" fill="#ffb8b8"/><rect x="539.21" y="445" width="0.63" height="20" fill="#9ad89a"/><rect x="539.79" y="445" width="0.63" height="20" fill="#b8b8fc"/><rect x="540.37" y="445" width="0.63" height="20" fill="#ffb8b8"/><rect x="540.95" y="445" width="0.63" height="20" fill="#ffde9c"/><rect x="541.53" y="445" width="0.63" height="20" fill="#ffb8b8"/><rect x="542.11" y="445" width="0.63" height="20" fill="#ffde9c"/><rect x="542.70" y="445" width="0.63" height="20" fill="#9ad89a"/><rect x="543.28" y="445" width="0.63" height="20" fill="#ffb8b8"/><rect x="543.86" y="445" width="1.21" height="20" fill="#b8b8fc"/><rect x="545.02" y="445" width="0.63" height="20" fill="#9ad89a"/><rect x="545.60" y="445" width="0.63" height="20" fill="#ffb8b8"/><rect x="546.18" y="445" width="0.63" height="20" fill="#b8b8fc"/><rect x="546.76" y="445" width="1.21" height="20" fill="#ffde9c"/><rect x="547.92" y="445" width="0.63" height="20" fill="#b8b8fc"/><rect x="548.51" y="445" width="0.63" height="20" fill="#ffb8b8"/><rect x="549.09" y="445" width="0.63" height="20" fill="#9ad89a"/><rect x="549.67" y="445" width="0.63" height="20" fill="#ffde9c"/><rect x="550.25" y="445" width="0.63" height="20" fill="#b8b8fc"/><rect x="550.83" y="445" width="1.21" height="20" fill="#ffb8b8"/><rect x="551.99" y="445" width="1.21" height="20" fill="#b8b8fc"/><rect x="553.15" y="445" width="2.37" height="20" fill="#9ad89a"/><rect x="555.48" y="445" width="0.63" height="20" fill="#b8b8fc"/><rect x="556.06" y="445" width="1.21" height="20" fill="#ffb8b8"/><rect x="557.22" y="445" width="0.63" height="20" fill="#b8b8fc"/><rect x="557.80" y="445" width="0.63" height="20" fill="#ffde9c"/><rect x="558.38" y="445" width="1.79" height="20" fill="#b8b8fc"/><rect x="560.13" y="445" width="0.63" height="20" fill="#ffb8b8"/><rect x="560.71" y="445" width="0.63" height="20" fill="#b8b8fc"/><rect x="561.29" y="445" width="0.63" height="20" fill="#9ad89a"/><rect x="561.87" y="445" width="0.63" height="20" fill="#b8b8fc"/><rect x="562.45" y="445" width="0.63" height="20" fill="#ffb8b8"/><rect x="563.03" y="445" width="0.63" height="20" fill="#9ad89a"/><rect x="563.61" y="445" width="0.63" height="20" fill="#b8b8fc"/><rect x="564.19" y="445" width="1.21" height="20" fill="#ffb8b8"/><rect x="565.35" y="445" width="0.63" height="20" fill="#9ad89a"/><rect x="565.94" y="445" width="0.63" height="20" fill="#b8b8fc"/><rect x="566.52" y="445" width="1.21" height="20" fill="#9ad89a"/><rect x="567.68" y="445" width="0.63" height="20" fill="#b8b8fc"/><rect x="568.26" y="445" width="0.63" height="20" fill="#9ad89a"/><rect x="568.84" y="445" width="0.63" height="20" fill="#b8b8fc"/><rect x="569.42" y="445" width="0.63" height="20" fill="#ffde9c"/><rect x="570.00" y="445" width="0.63" height="20" fill="#9ad89a"/><rect x="570.58" y="445" width="0.63" height="20" fill="#ffb8b8"/><rect x="571.16" y="445" width="1.79" height="20" fill="#b8b8fc"/><rect x="572.91" y="445" width="1.21" height="20" fill="#9ad89a"/><rect x="574.07" y="445" width="0.63" height="20" fill="#ffde9c"/><rect x="574.65" y="445" width="0.63" height="20" fill="#ffb8b8"/><rect x="575.23" y="445" width="0.63" height="20" fill="#ffde9c"/><rect x="575.81" y="445" width="0.63" height="20" fill="#9ad89a"/><rect x="576.39" y="445" width="0.63" height="20" fill="#ffde9c"/><rect x="576.97" y="445" width="0.63" height="20" fill="#ffb8b8"/><rect x="577.56" y="445" width="0.63" height="20" fill="#ffde9c"/><rect x="578.14" y="445" width="0.63" height="20" fill="#b8b8fc"/><rect x="578.72" y="445" width="0.63" height="20" fill="#9ad89a"/><rect x="579.30" y="445" width="1.79" height="20" fill="#b8b8fc"/><rect x="581.04" y="445" width="0.63" height="20" fill="#9ad89a"/><rect x="581.62" y="445" width="1.21" height="20" fill="#b8b8fc"/><rect x="582.78" y="445" width="0.63" height="20" fill="#9ad89a"/><rect x="583.37" y="445" width="1.79" height="20" fill="#ffb8b8"/><rect x="585.11" y="445" width="1.21" height="20" fill="#b8b8fc"/><rect x="586.27" y="445" width="1.21" height="20" fill="#ffde9c"/><rect x="587.43" y="445" width="1.21" height="20" fill="#b8b8fc"/><rect x="588.59" y="445" width="0.63" height="20" fill="#ffb8b8"/><rect x="589.18" y="445" width="0.63" height="20" fill="#b8b8fc"/><rect x="589.76" y="445" width="0.63" height="20" fill="#9ad89a"/><rect x="590.34" y="445" width="0.63" height="20" fill="#ffde9c"/><rect x="590.92" y="445" width="0.63" height="20" fill="#b8b8fc"/><rect x="591.50" y="445" width="0.63" height="20" fill="#ffb8b8"/><rect x="592.08" y="445" width="0.63" height="20" fill="#ffde9c"/><rect x="592.66" y="445" width="1.21" height="20" fill="#b8b8fc"/><rect x="593.82" y="445" width="1.79" height="20" fill="#ffb8b8"/><rect x="595.57" y="445" width="0.63" height="20" fill="#ffde9c"/><rect x="596.15" y="445" width="0.63" height="20" fill="#b8b8fc"/><rect x="596.73" y="445" width="0.63" height="20" fill="#9ad89a"/><rect x="597.31" y="445" width="2.37" height="20" fill="#b8b8fc"/><rect x="599.63" y="445" width="1.79" height="20" fill="#ffde9c"/><rect x="601.38" y="445" width="0.63" height="20" fill="#ffb8b8"/><rect x="601.96" y="445" width="1.21" height="20" fill="#b8b8fc"/><rect x="603.12" y="445" width="0.63" height="20" fill="#ffde9c"/><rect x="603.70" y="445" width="0.63" height="20" fill="#ffb8b8"/><rect x="604.28" y="445" width="0.63" height="20" fill="#9ad89a"/><rect x="604.86" y="445" width="0.63" height="20" fill="#ffde9c"/><rect x="605.44" y="445" width="0.63" height="20" fill="#b8b8fc"/><rect x="606.02" y="445" width="0.63" height="20" fill="#ffb8b8"/><rect x="606.61" y="445" width="1.21" height="20" fill="#b8b8fc"/><rect x="607.77" y="445" width="0.63" height="20" fill="#ffde9c"/><rect x="608.35" y="445" width="1.79" height="20" fill="#9ad89a"/><rect x="610.09" y="445" width="0.63" height="20" fill="#ffb8b8"/><rect x="610.67" y="445" width="0.63" height="20" fill="#9ad89a"/><rect x="611.25" y="445" width="0.63" height="20" fill="#ffb8b8"/><rect x="611.83" y="445" width="0.63" height="20" fill="#b8b8fc"/><rect x="612.42" y="445" width="1.79" height="20" fill="#ffb8b8"/><rect x="614.16" y="445" width="0.63" height="20" fill="#b8b8fc"/><rect x="614.74" y="445" width="0.63" height="20" fill="#ffb8b8"/><rect x="615.32" y="445" width="0.63" height="20" fill="#ffde9c"/><rect x="615.90" y="445" width="1.21" height="20" fill="#ffb8b8"/><rect x="617.06" y="445" width="0.63" height="20" fill="#9ad89a"/><rect x="617.64" y="445" width="0.63" height="20" fill="#ffde9c"/><rect x="618.23" y="445" width="1.21" height="20" fill="#9ad89a"/><rect x="619.39" y="445" width="0.63" height="20" fill="#ffb8b8"/><rect x="619.97" y="445" width="0.63" height="20" fill="#9ad89a"/><rect x="620.55" y="445" width="1.21" height="20" fill="#b8b8fc"/><rect x="621.71" y="445" width="1.21" height="20" fill="#ffb8b8"/><rect x="622.87" y="445" width="0.63" height="20" fill="#9ad89a"/><rect x="623.45" y="445" width="0.63" height="20" fill="#ffb8b8"/><rect x="624.04" y="445" width="1.21" height="20" fill="#9ad89a"/><rect x="625.20" y="445" width="0.63" height="20" fill="#ffde9c"/><rect x="625.78" y="445" width="0.63" height="20" fill="#b8b8fc"/><rect x="626.36" y="445" width="0.63" height="20" fill="#ffb8b8"/><rect x="626.94" y="445" width="0.63" height="20" fill="#b8b8fc"/><rect x="627.52" y="445" width="0.63" height="20" fill="#ffb8b8"/><rect x="628.10" y="445" width="0.63" height="20" fill="#b8b8fc"/><rect x="628.68" y="445" width="0.63" height="20" fill="#ffde9c"/><rect x="629.26" y="445" width="1.21" height="20" fill="#9ad89a"/><rect x="630.43" y="445" width="0.63" height="20" fill="#b8b8fc"/><rect x="631.01" y="445" width="1.79" height="20" fill="#9ad89a"/><rect x="632.75" y="445" width="0.63" height="20" fill="#b8b8fc"/><rect x="633.33" y="445" width="0.63" height="20" fill="#ffde9c"/><rect x="633.91" y="445" width="0.63" height="20" fill="#b8b8fc"/><rect x="634.49" y="445" width="0.63" height="20" fill="#9ad89a"/><rect x="635.07" y="445" width="0.63" height="20" fill="#b8b8fc"/><rect x="635.66" y="445" width="0.63" height="20" fill="#9ad89a"/><rect x="636.24" y="445" width="1.21" height="20" fill="#ffb8b8"/><rect x="637.40" y="445" width="1.21" height="20" fill="#b8b8fc"/><rect x="638.56" y="445" width="1.21" height="20" fill="#ffde9c"/><rect x="639.72" y="445" width="1.79" height="20" fill="#ffb8b8"/><rect x="641.47" y="445" width="1.79" height="20" fill="#9ad89a"/><rect x="643.21" y="445" width="1.21" height="20" fill="#b8b8fc"/><rect x="644.37" y="445" width="0.63" height="20" fill="#9ad89a"/><rect x="644.95" y="445" width="3.54" height="20" fill="#ffb8b8"/><rect x="648.44" y="445" width="0.63" height="20" fill="#9ad89a"/><rect x="649.02" y="445" width="1.21" height="20" fill="#b8b8fc"/><rect x="650.18" y="445" width="0.63" height="20" fill="#9ad89a"/><rect x="650.76" y="445" width="1.21" height="20" fill="#b8b8fc"/><rect x="651.92" y="445" width="0.63" height="20" fill="#ffb8b8"/><rect x="652.50" y="445" width="0.63" height="20" fill="#ffde9c"/><rect x="653.09" y="445" width="1.79" height="20" fill="#b8b8fc"/><rect x="654.83" y="445" width="0.63" height="20" fill="#9ad89a"/><rect x="655.41" y="445" width="0.63" height="20" fill="#ffde9c"/><rect x="655.99" y="445" width="1.21" height="20" fill="#9ad89a"/><rect x="657.15" y="445" width="1.79" height="20" fill="#b8b8fc"/><rect x="658.90" y="445" width="0.63" height="20" fill="#ffde9c"/><rect x="659.48" y="445" width="0.63" height="20" fill="#9ad89a"/><rect x="660.06" y="445" width="0.63" height="20" fill="#b8b8fc"/><rect x="660.64" y="445" width="0.63" height="20" fill="#9ad89a"/><rect x="661.22" y="445" width="0.63" height="20" fill="#b8b8fc"/><rect x="661.80" y="445" width="0.63" height="20" fill="#9ad89a"/><rect x="662.38" y="445" width="0.63" height="20" fill="#ffb8b8"/><rect x="662.96" y="445" width="0.63" height="20" fill="#b8b8fc"/><rect x="663.54" y="445" width="0.63" height="20" fill="#ffb8b8"/><rect x="664.12" y="445" width="0.63" height="20" fill="#9ad89a"/><rect x="664.71" y="445" width="0.63" height="20" fill="#ffb8b8"/><rect x="665.29" y="445" width="1.79" height="20" fill="#ffde9c"/><rect x="667.03" y="445" width="0.63" height="20" fill="#ffb8b8"/><rect x="667.61" y="445" width="0.63" height="20" fill="#ffde9c"/><rect x="668.19" y="445" width="0.63" height="20" fill="#9ad89a"/><rect x="668.77" y="445" width="1.21" height="20" fill="#ffde9c"/><rect x="669.93" y="445" width="0.63" height="20" fill="#b8b8fc"/><rect x="670.52" y="445" width="1.79" height="20" fill="#ffde9c"/><rect x="672.26" y="445" width="0.63" height="20" fill="#b8b8fc"/><rect x="672.84" y="445" width="0.63" height="20" fill="#ffde9c"/><rect x="673.42" y="445" width="0.63" height="20" fill="#9ad89a"/><rect x="674.00" y="445" width="0.63" height="20" fill="#ffb8b8"/><rect x="674.58" y="445" width="0.63" height="20" fill="#b8b8fc"/><rect x="675.16" y="445" width="1.79" height="20" fill="#ffb8b8"/><rect x="676.91" y="445" width="0.63" height="20" fill="#b8b8fc"/><rect x="677.49" y="445" width="0.63" height="20" fill="#ffde9c"/><rect x="678.07" y="445" width="0.63" height="20" fill="#ffb8b8"/><rect x="678.65" y="445" width="0.63" height="20" fill="#ffde9c"/><rect x="679.23" y="445" width="0.63" height="20" fill="#9ad89a"/><rect x="679.81" y="445" width="1.21" height="20" fill="#ffb8b8"/><rect x="680.97" y="445" width="0.63" height="20" fill="#ffde9c"/><rect x="681.55" y="445" width="0.63" height="20" fill="#9ad89a"/><rect x="682.14" y="445" width="1.79" height="20" fill="#ffde9c"/><rect x="683.88" y="445" width="1.79" height="20" fill="#ffb8b8"/><rect x="685.62" y="445" width="1.79" height="20" fill="#9ad89a"/><rect x="687.36" y="445" width="0.63" height="20" fill="#ffb8b8"/><rect x="687.95" y="445" width="0.63" height="20" fill="#9ad89a"/><rect x="688.53" y="445" width="0.63" height="20" fill="#b8b8fc"/><rect x="689.11" y="445" width="0.63" height="20" fill="#ffde9c"/><rect x="689.69" y="445" width="1.21" height="20" fill="#9ad89a"/><rect x="690.85" y="445" width="0.63" height="20" fill="#ffb8b8"/><rect x="691.43" y="445" width="0.63" height="20" fill="#9ad89a"/><rect x="692.01" y="445" width="2.37" height="20" fill="#b8b8fc"/><rect x="694.34" y="445" width="0.63" height="20" fill="#ffde9c"/><rect x="694.92" y="445" width="0.63" height="20" fill="#9ad89a"/><rect x="695.50" y="445" width="0.63" height="20" fill="#ffde9c"/><rect x="696.08" y="445" width="0.63" height="20" fill="#9ad89a"/><rect x="696.66" y="445" width="0.63" height="20" fill="#ffde9c"/><rect x="697.24" y="445" width="0.63" height="20" fill="#9ad89a"/><rect x="697.82" y="445" width="0.63" height="20" fill="#ffde9c"/><rect x="698.40" y="445" width="1.21" height="20" fill="#b8b8fc"/><rect x="699.57" y="445" width="0.63" height="20" fill="#ffde9c"/><rect x="700.15" y="445" width="0.63" height="20" fill="#ffb8b8"/><rect x="700.73" y="445" width="0.63" height="20" fill="#ffde9c"/><rect x="701.31" y="445" width="1.21" height="20" fill="#ffb8b8"/><rect x="702.47" y="445" width="0.63" height="20" fill="#ffde9c"/><rect x="703.05" y="445" width="1.21" height="20" fill="#ffb8b8"/><rect x="704.21" y="445" width="0.63" height="20" fill="#ffde9c"/><rect x="704.79" y="445" width="0.63" height="20" fill="#b8b8fc"/><rect x="705.38" y="445" width="0.63" height="20" fill="#ffde9c"/><rect x="705.96" y="445" width="0.63" height="20" fill="#9ad89a"/><rect x="706.54" y="445" width="0.63" height="20" fill="#b8b8fc"/><rect x="707.12" y="445" width="0.63" height="20" fill="#ffb8b8"/><rect x="707.70" y="445" width="0.63" height="20" fill="#ffde9c"/><rect x="708.28" y="445" width="0.63" height="20" fill="#b8b8fc"/><rect x="708.86" y="445" width="0.63" height="20" fill="#9ad89a"/><rect x="709.44" y="445" width="1.21" height="20" fill="#b8b8fc"/><rect x="710.60" y="445" width="0.63" height="20" fill="#ffb8b8"/><rect x="711.19" y="445" width="0.63" height="20" fill="#ffde9c"/><rect x="711.77" y="445" width="0.63" height="20" fill="#ffb8b8"/><rect x="712.35" y="445" width="0.63" height="20" fill="#b8b8fc"/><rect x="712.93" y="445" width="0.63" height="20" fill="#ffb8b8"/><rect x="713.51" y="445" width="0.63" height="20" fill="#b8b8fc"/><rect x="714.09" y="445" width="1.21" height="20" fill="#ffb8b8"/><rect x="715.25" y="445" width="1.79" height="20" fill="#ffde9c"/><rect x="717.00" y="445" width="2.37" height="20" fill="#ffb8b8"/><rect x="719.32" y="445" width="0.63" height="20" fill="#9ad89a"/><rect x="719.90" y="445" width="0.63" height="20" fill="#b8b8fc"/><rect x="720.48" y="445" width="1.79" height="20" fill="#9ad89a"/><rect x="722.22" y="445" width="0.63" height="20" fill="#ffb8b8"/><rect x="722.81" y="445" width="0.63" height="20" fill="#9ad89a"/><rect x="723.39" y="445" width="0.63" height="20" fill="#ffde9c"/><rect x="723.97" y="445" width="0.63" height="20" fill="#b8b8fc"/><rect x="724.55" y="445" width="0.63" height="20" fill="#ffb8b8"/><rect x="725.13" y="445" width="1.21" height="20" fill="#9ad89a"/><rect x="726.29" y="445" width="0.63" height="20" fill="#ffb8b8"/><rect x="726.87" y="445" width="0.63" height="20" fill="#9ad89a"/><rect x="727.45" y="445" width="0.63" height="20" fill="#ffde9c"/><rect x="728.03" y="445" width="0.63" height="20" fill="#9ad89a"/><rect x="728.62" y="445" width="0.63" height="20" fill="#b8b8fc"/><rect x="729.20" y="445" width="1.21" height="20" fill="#9ad89a"/><rect x="730.36" y="445" width="0.63" height="20" fill="#ffde9c"/><rect x="730.94" y="445" width="0.63" height="20" fill="#ffb8b8"/><rect x="731.52" y="445" width="0.63" height="20" fill="#b8b8fc"/><rect x="732.10" y="445" width="0.63" height="20" fill="#9ad89a"/><rect x="732.68" y="445" width="0.63" height="20" fill="#ffde9c"/><rect x="733.26" y="445" width="1.79" height="20" fill="#ffb8b8"/><rect x="735.01" y="445" width="0.63" height="20" fill="#b8b8fc"/><rect x="735.59" y="445" width="0.63" height="20" fill="#ffb8b8"/><rect x="736.17" y="445" width="1.21" height="20" fill="#b8b8fc"/><rect x="737.33" y="445" width="1.21" height="20" fill="#ffb8b8"/><rect x="738.49" y="445" width="1.21" height="20" fill="#ffde9c"/><rect x="739.65" y="445" width="0.63" height="20" fill="#b8b8fc"/><rect x="740.24" y="445" width="0.63" height="20" fill="#ffde9c"/><rect x="740.82" y="445" width="1.79" height="20" fill="#9ad89a"/><rect x="742.56" y="445" width="0.63" height="20" fill="#b8b8fc"/><rect x="743.14" y="445" width="0.63" height="20" fill="#ffde9c"/><rect x="743.72" y="445" width="0.63" height="20" fill="#ffb8b8"/><rect x="744.30" y="445" width="0.63" height="20" fill="#ffde9c"/><rect x="744.88" y="445" width="0.63" height="20" fill="#b8b8fc"/><rect x="745.46" y="445" width="0.63" height="20" fill="#ffb8b8"/><rect x="746.05" y="445" width="0.63" height="20" fill="#b8b8fc"/><rect x="746.63" y="445" width="0.63" height="20" fill="#ffde9c"/><rect x="747.21" y="445" width="0.63" height="20" fill="#b8b8fc"/><rect x="747.79" y="445" width="1.21" height="20" fill="#9ad89a"/><rect x="748.95" y="445" width="0.63" height="20" fill="#ffde9c"/><rect x="749.53" y="445" width="1.21" height="20" fill="#b8b8fc"/><rect x="750.69" y="445" width="0.63" height="20" fill="#ffde9c"/><rect x="751.27" y="445" width="0.63" height="20" fill="#ffb8b8"/><rect x="751.86" y="445" width="0.63" height="20" fill="#9ad89a"/><rect x="752.44" y="445" width="1.79" height="20" fill="#ffb8b8"/><rect x="754.18" y="445" width="0.63" height="20" fill="#ffde9c"/><rect x="754.76" y="445" width="0.63" height="20" fill="#b8b8fc"/><rect x="755.34" y="445" width="1.21" height="20" fill="#ffde9c"/><rect x="756.50" y="445" width="0.63" height="20" fill="#ffb8b8"/><rect x="757.08" y="445" width="0.63" height="20" fill="#9ad89a"/><rect x="757.67" y="445" width="1.79" height="20" fill="#b8b8fc"/><rect x="759.41" y="445" width="0.63" height="20" fill="#ffde9c"/><rect x="759.99" y="445" width="0.63" height="20" fill="#ffb8b8"/><rect x="760.57" y="445" width="0.63" height="20" fill="#b8b8fc"/><rect x="761.15" y="445" width="0.63" height="20" fill="#ffb8b8"/><rect x="761.73" y="445" width="0.63" height="20" fill="#ffde9c"/><rect x="762.31" y="445" width="0.63" height="20" fill="#ffb8b8"/><rect x="762.89" y="445" width="0.63" height="20" fill="#ffde9c"/><rect x="763.48" y="445" width="0.63" height="20" fill="#ffb8b8"/><rect x="764.06" y="445" width="0.63" height="20" fill="#9ad89a"/><rect x="764.64" y="445" width="0.63" height="20" fill="#ffb8b8"/><rect x="765.22" y="445" width="0.63" height="20" fill="#9ad89a"/><rect x="765.80" y="445" width="0.63" height="20" fill="#b8b8fc"/><rect x="766.38" y="445" width="0.63" height="20" fill="#ffb8b8"/><rect x="766.96" y="445" width="0.63" height="20" fill="#9ad89a"/><rect x="767.54" y="445" width="2.37" height="20" fill="#b8b8fc"/><rect x="769.87" y="445" width="0.63" height="20" fill="#9ad89a"/><rect x="770.45" y="445" width="0.63" height="20" fill="#ffb8b8"/><rect x="771.03" y="445" width="0.63" height="20" fill="#ffde9c"/><rect x="771.61" y="445" width="0.63" height="20" fill="#9ad89a"/><rect x="772.19" y="445" width="1.21" height="20" fill="#ffb8b8"/><rect x="773.35" y="445" width="0.63" height="20" fill="#b8b8fc"/><rect x="773.93" y="445" width="1.21" height="20" fill="#ffb8b8"/><rect x="775.10" y="445" width="0.63" height="20" fill="#9ad89a"/><rect x="775.68" y="445" width="0.63" height="20" fill="#b8b8fc"/><rect x="776.26" y="445" width="0.63" height="20" fill="#ffb8b8"/><rect x="776.84" y="445" width="0.63" height="20" fill="#ffde9c"/><rect x="777.42" y="445" width="1.21" height="20" fill="#ffb8b8"/><rect x="778.58" y="445" width="0.63" height="20" fill="#ffde9c"/><rect x="779.16" y="445" width="1.21" height="20" fill="#b8b8fc"/><rect x="780.32" y="445" width="1.21" height="20" fill="#ffde9c"/><rect x="781.49" y="445" width="0.63" height="20" fill="#b8b8fc"/><rect x="782.07" y="445" width="0.63" height="20" fill="#ffde9c"/><rect x="782.65" y="445" width="1.21" height="20" fill="#b8b8fc"/><rect x="783.81" y="445" width="0.63" height="20" fill="#ffb8b8"/><rect x="784.39" y="445" width="0.63" height="20" fill="#b8b8fc"/><rect x="784.97" y="445" width="1.21" height="20" fill="#ffb8b8"/><rect x="786.13" y="445" width="0.63" height="20" fill="#ffde9c"/><rect x="786.72" y="445" width="0.63" height="20" fill="#ffb8b8"/><rect x="787.30" y="445" width="0.63" height="20" fill="#ffde9c"/><rect x="787.88" y="445" width="0.63" height="20" fill="#b8b8fc"/><rect x="788.46" y="445" width="0.63" height="20" fill="#9ad89a"/><rect x="789.04" y="445" width="1.21" height="20" fill="#ffb8b8"/><rect x="790.20" y="445" width="0.63" height="20" fill="#ffde9c"/><rect x="790.78" y="445" width="0.63" height="20" fill="#b8b8fc"/><rect x="791.36" y="445" width="1.79" height="20" fill="#ffb8b8"/><rect x="793.11" y="445" width="0.63" height="20" fill="#9ad89a"/><rect x="793.69" y="445" width="0.63" height="20" fill="#ffde9c"/><rect x="794.27" y="445" width="1.21" height="20" fill="#ffb8b8"/><rect x="795.43" y="445" width="0.63" height="20" fill="#ffde9c"/><rect x="796.01" y="445" width="0.63" height="20" fill="#ffb8b8"/><rect x="796.59" y="445" width="0.63" height="20" fill="#b8b8fc"/><rect x="797.17" y="445" width="0.63" height="20" fill="#ffb8b8"/><rect x="797.75" y="445" width="2.37" height="20" fill="#b8b8fc"/><rect x="800.08" y="445" width="0.63" height="20" fill="#ffde9c"/><rect x="800.66" y="445" width="0.63" height="20" fill="#b8b8fc"/><rect x="801.24" y="445" width="0.63" height="20" fill="#ffde9c"/><rect x="801.82" y="445" width="0.63" height="20" fill="#9ad89a"/><rect x="802.40" y="445" width="0.63" height="20" fill="#ffb8b8"/><rect x="802.98" y="445" width="1.21" height="20" fill="#ffde9c"/><rect x="804.15" y="445" width="0.63" height="20" fill="#ffb8b8"/><rect x="804.73" y="445" width="0.63" height="20" fill="#b8b8fc"/><rect x="805.31" y="445" width="1.21" height="20" fill="#ffb8b8"/><rect x="806.47" y="445" width="0.63" height="20" fill="#ffde9c"/><rect x="807.05" y="445" width="0.63" height="20" fill="#ffb8b8"/><rect x="807.63" y="445" width="0.63" height="20" fill="#ffde9c"/><rect x="808.21" y="445" width="0.63" height="20" fill="#b8b8fc"/><rect x="808.79" y="445" width="1.21" height="20" fill="#ffb8b8"/><rect x="809.96" y="445" width="1.79" height="20" fill="#9ad89a"/><rect x="811.70" y="445" width="0.63" height="20" fill="#b8b8fc"/><rect x="812.28" y="445" width="1.79" height="20" fill="#9ad89a"/><rect x="814.02" y="445" width="1.21" height="20" fill="#ffb8b8"/><rect x="815.18" y="445" width="2.37" height="20" fill="#ffde9c"/><rect x="817.51" y="445" width="0.63" height="20" fill="#ffb8b8"/><rect x="818.09" y="445" width="1.21" height="20" fill="#ffde9c"/><rect x="819.25" y="445" width="0.63" height="20" fill="#ffb8b8"/><rect x="819.83" y="445" width="0.63" height="20" fill="#9ad89a"/><rect x="820.41" y="445" width="0.63" height="20" fill="#b8b8fc"/><rect x="820.99" y="445" width="1.79" height="20" fill="#ffb8b8"/><rect x="822.74" y="445" width="0.63" height="20" fill="#9ad89a"/><rect x="823.32" y="445" width="1.21" height="20" fill="#ffde9c"/><rect x="824.48" y="445" width="0.63" height="20" fill="#ffb8b8"/><rect x="825.06" y="445" width="0.63" height="20" fill="#ffde9c"/><rect x="825.64" y="445" width="0.63" height="20" fill="#9ad89a"/><rect x="826.22" y="445" width="0.63" height="20" fill="#ffb8b8"/><rect x="826.80" y="445" width="1.21" height="20" fill="#9ad89a"/><rect x="827.97" y="445" width="1.21" height="20" fill="#ffde9c"/><rect x="829.13" y="445" width="2.37" height="20" fill="#ffb8b8"/><rect x="831.45" y="445" width="0.63" height="20" fill="#b8b8fc"/><rect x="832.03" y="445" width="0.63" height="20" fill="#9ad89a"/><rect x="832.61" y="445" width="0.63" height="20" fill="#b8b8fc"/><rect x="833.20" y="445" width="1.21" height="20" fill="#ffde9c"/><rect x="834.36" y="445" width="0.63" height="20" fill="#b8b8fc"/><rect x="834.94" y="445" width="0.63" height="20" fill="#9ad89a"/><rect x="835.52" y="445" width="0.63" height="20" fill="#b8b8fc"/><rect x="836.10" y="445" width="0.63" height="20" fill="#ffb8b8"/><rect x="836.68" y="445" width="1.79" height="20" fill="#b8b8fc"/><rect x="838.42" y="445" width="0.63" height="20" fill="#9ad89a"/><rect x="839.01" y="445" width="0.63" height="20" fill="#b8b8fc"/><rect x="839.59" y="445" width="1.21" height="20" fill="#ffb8b8"/><rect x="840.75" y="445" width="0.63" height="20" fill="#9ad89a"/><rect x="841.33" y="445" width="1.79" height="20" fill="#b8b8fc"/><rect x="843.07" y="445" width="0.63" height="20" fill="#ffb8b8"/><rect x="843.65" y="445" width="0.63" height="20" fill="#b8b8fc"/><rect x="844.23" y="445" width="0.63" height="20" fill="#ffb8b8"/><rect x="844.82" y="445" width="1.21" height="20" fill="#b8b8fc"/><rect x="845.98" y="445" width="1.21" height="20" fill="#ffde9c"/><rect x="847.14" y="445" width="0.63" height="20" fill="#9ad89a"/><rect x="847.72" y="445" width="0.63" height="20" fill="#b8b8fc"/><rect x="848.30" y="445" width="0.63" height="20" fill="#ffb8b8"/><rect x="848.88" y="445" width="0.63" height="20" fill="#9ad89a"/><rect x="849.46" y="445" width="0.63" height="20" fill="#ffb8b8"/><rect x="850.04" y="445" width="0.63" height="20" fill="#b8b8fc"/><rect x="850.63" y="445" width="0.63" height="20" fill="#9ad89a"/><rect x="851.21" y="445" width="0.63" height="20" fill="#ffb8b8"/><rect x="851.79" y="445" width="0.63" height="20" fill="#9ad89a"/><rect x="852.37" y="445" width="1.21" height="20" fill="#ffb8b8"/><rect x="853.53" y="445" width="1.21" height="20" fill="#b8b8fc"/><rect x="854.69" y="445" width="0.63" height="20" fill="#9ad89a"/><rect x="855.27" y="445" width="1.21" height="20" fill="#b8b8fc"/><rect x="856.44" y="445" width="0.63" height="20" fill="#9ad89a"/><rect x="857.02" y="445" width="0.63" height="20" fill="#ffde9c"/><rect x="857.60" y="445" width="1.21" height="20" fill="#ffb8b8"/><rect x="858.76" y="445" width="1.21" height="20" fill="#b8b8fc"/><rect x="859.92" y="445" width="0.63" height="20" fill="#ffb8b8"/><rect x="860.50" y="445" width="0.63" height="20" fill="#9ad89a"/><rect x="861.08" y="445" width="0.63" height="20" fill="#ffde9c"/><rect x="861.66" y="445" width="0.63" height="20" fill="#ffb8b8"/><rect x="862.25" y="445" width="0.63" height="20" fill="#ffde9c"/><rect x="862.83" y="445" width="0.63" height="20" fill="#ffb8b8"/><rect x="863.41" y="445" width="0.63" height="20" fill="#9ad89a"/><rect x="863.99" y="445" width="1.21" height="20" fill="#ffb8b8"/><rect x="865.15" y="445" width="0.63" height="20" fill="#b8b8fc"/><rect x="865.73" y="445" width="0.63" height="20" fill="#9ad89a"/><rect x="866.31" y="445" width="0.63" height="20" fill="#ffb8b8"/><rect x="866.89" y="445" width="0.63" height="20" fill="#9ad89a"/><rect x="867.47" y="445" width="0.63" height="20" fill="#ffb8b8"/><rect x="868.06" y="445" width="0.63" height="20" fill="#ffde9c"/><rect x="868.64" y="445" width="1.79" height="20" fill="#9ad89a"/><rect x="870.38" y="445" width="1.21" height="20" fill="#ffde9c"/><rect x="871.54" y="445" width="0.63" height="20" fill="#b8b8fc"/><rect x="872.12" y="445" width="0.63" height="20" fill="#ffb8b8"/><rect x="872.70" y="445" width="0.63" height="20" fill="#b8b8fc"/><rect x="873.28" y="445" width="0.63" height="20" fill="#ffde9c"/><rect x="873.87" y="445" width="1.79" height="20" fill="#ffb8b8"/><rect x="875.61" y="445" width="0.63" height="20" fill="#ffde9c"/><rect x="876.19" y="445" width="0.63" height="20" fill="#b8b8fc"/><rect x="876.77" y="445" width="0.63" height="20" fill="#ffb8b8"/><rect x="877.35" y="445" width="0.63" height="20" fill="#ffde9c"/><rect x="877.93" y="445" width="0.63" height="20" fill="#ffb8b8"/><rect x="878.51" y="445" width="0.63" height="20" fill="#9ad89a"/><rect x="879.09" y="445" width="0.63" height="20" fill="#b8b8fc"/><rect x="879.68" y="445" width="0.37" height="20" fill="#ffde9c"/></g></svg><div class="a" style="left:197px;top:445px;width:683px;height:3px;background:linear-gradient(to bottom,rgba(255,255,255,0.3),rgba(255,255,255,0));"></div><div class="a" style="left:197px;top:465px;width:683px;height:3.6px;background:#d2d2d2;"></div><div class="a" style="left:197px;top:468.6px;width:683px;height:57px;background:#fff;"></div><div class="a" style="left:208px;top:468.6px;width:432px;height:57px;background:#f5f5f5;"></div><div class="a" style="left:799px;top:468.6px;width:63px;height:57px;background:#f5f5f5;"></div><div class="a" style="left:208px;top:499px;width:1px;height:26px;background:#e2e2e2;"></div><div class="a" style="left:196.2px;top:384px;width:0.8px;height:141px;background:#b4b4b4;"></div><div class="a" style="left:881px;top:384px;width:0.8px;height:141px;background:#a4a4a4;"></div><svg width="973" height="525"><rect x="640" y="485.55" width="159" height="3.3" fill="#254f72"/><rect x="862" y="485.55" width="18" height="3.3" fill="#254f72"/><rect x="208.6" y="474.6" width="430.8" height="24.3" fill="#5ba7e5" stroke="#254f72" stroke-width="1.2"/><rect x="799.6" y="474.6" width="61.8" height="24.3" fill="#5ba7e5" stroke="#254f72" stroke-width="1.2"/><path d="M626.70 474.60 L639.00 486.75 L626.70 498.90 M600.30 474.60 L612.60 486.75 L600.30 498.90 M573.90 474.60 L586.20 486.75 L573.90 498.90 M547.50 474.60 L559.80 486.75 L547.50 498.90 M521.10 474.60 L533.40 486.75 L521.10 498.90 M494.70 474.60 L507.00 486.75 L494.70 498.90 M468.30 474.60 L480.60 486.75 L468.30 498.90 M441.90 474.60 L454.20 486.75 L441.90 498.90 M415.50 474.60 L427.80 486.75 L415.50 498.90 M389.10 474.60 L401.40 486.75 L389.10 498.90 M362.70 474.60 L375.00 486.75 L362.70 498.90 M336.30 474.60 L348.60 486.75 L336.30 498.90 M309.90 474.60 L322.20 486.75 L309.90 498.90 M283.50 474.60 L295.80 486.75 L283.50 498.90 M257.10 474.60 L269.40 486.75 L257.10 498.90 M230.70 474.60 L243.00 486.75 L230.70 498.90 M848.70 474.60 L861.00 486.75 L848.70 498.90 M822.30 474.60 L834.60 486.75 L822.30 498.90" fill="none" stroke="#254f72" stroke-width="1.3" stroke-linejoin="miter"/><rect x="511" y="474" width="129" height="7.6" fill="#2e5878"/><rect x="799" y="474" width="63" height="7.6" fill="#2e5878"/><rect x="449" y="472.4" width="5" height="29.8" fill="#2b5878"/><rect x="424" y="502.2" width="0.8" height="4" fill="#b0b0b0"/><rect x="831.3" y="502.2" width="0.8" height="4" fill="#b0b0b0"/></svg><div class="a" style="left:416px;top:506px;width:32px;height:19px;background:#efefef;"></div><div class="a" style="left:823px;top:506px;width:31.8px;height:19px;background:#f0f0f0;"></div><div class="t" id="e1" style="left:420.3px;top:509.3px;font-size:11.3px;color:#000;">1</div><div class="t" id="e1b" style="left:429.3px;top:509.6px;font-size:11px;color:#9a9a9a;font-family:'Liberation Mono',monospace;letter-spacing:-1.3px;">(2)</div><div class="t" id="e2" style="left:827.3px;top:509.3px;font-size:11.3px;color:#000;">2</div><div class="t" id="e2b" style="left:836.3px;top:509.6px;font-size:11px;color:#9a9a9a;font-family:'Liberation Mono',monospace;letter-spacing:-1.3px;">(1)</div><div class="a" style="left:196px;top:524px;width:686px;height:1px;background:#c2c2c2;"></div><div class="btn" style="left:861.3px;top:386.3px;"></div><svg width="973" height="525"><path d="M874.48 394.20 L875.93 394.31 L875.93 396.09 L874.48 396.20 L873.97 397.45 L874.91 398.55 L873.65 399.81 L872.55 398.87 L871.30 399.38 L871.19 400.83 L869.41 400.83 L869.30 399.38 L868.05 398.87 L866.95 399.81 L865.69 398.55 L866.63 397.45 L866.12 396.20 L864.67 396.09 L864.67 394.31 L866.12 394.20 L866.63 392.95 L865.69 391.85 L866.95 390.59 L868.05 391.53 L869.30 391.02 L869.41 389.57 L871.19 389.57 L871.30 391.02 L872.55 391.53 L873.65 390.59 L874.91 391.85 L873.97 392.95Z M872.20 395.20 A1.9 1.9 0 1 0 868.40 395.20 A1.9 1.9 0 1 0 872.20 395.20Z" fill="#2e8ad8" fill-rule="evenodd"/></svg><svg width="973" height="525" style="filter:drop-shadow(0px 2.5px 1.8px rgba(0,0,0,0.55));"><path d="M28.5 21.5 L28.5 288.5 L207.5 474.2" fill="none" stroke="#f5a80e" stroke-width="7" stroke-linecap="round" stroke-linejoin="miter"/><path d="M968.9 14.5 L968.9 286 L886.2 482" fill="none" stroke="#f5a80e" stroke-width="7" stroke-linecap="round" stroke-linejoin="miter"/><circle cx="822.4" cy="367.3" r="20" fill="none" stroke="#f5a80e" stroke-width="7" stroke-dasharray="7 6.963" transform="rotate(-109.5 822.4 367.3)"/></svg></body></html>
